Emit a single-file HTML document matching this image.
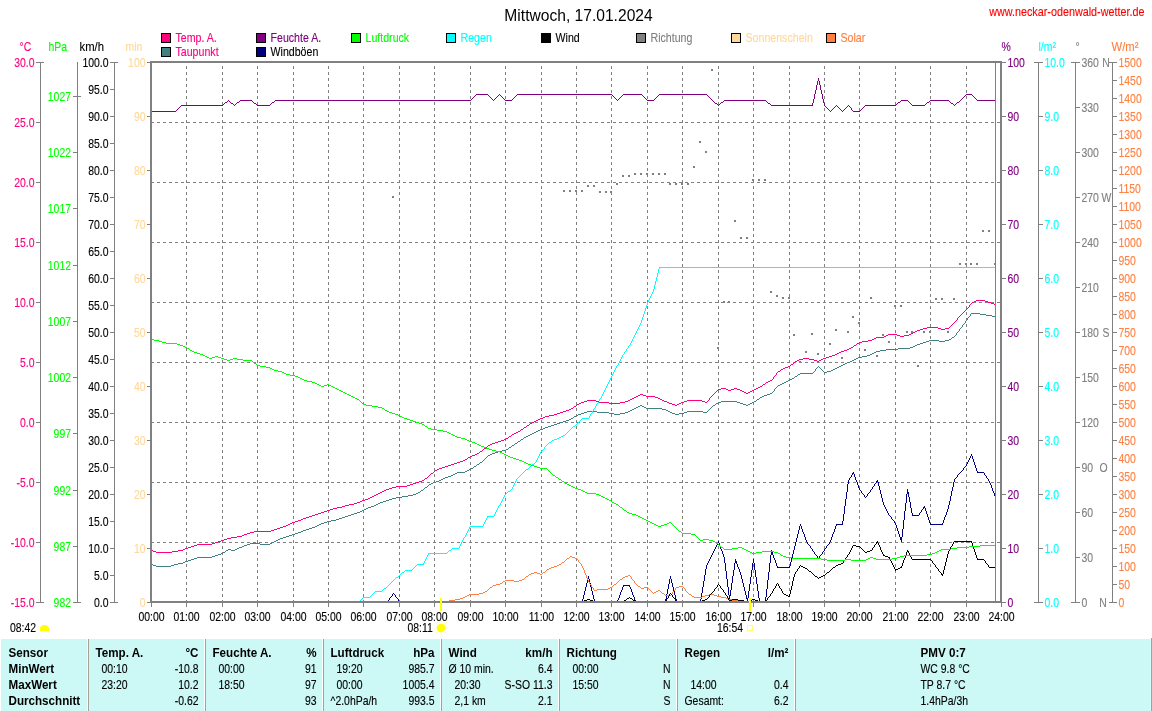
<!DOCTYPE html>
<html><head><meta charset="utf-8"><style>
html,body{margin:0;padding:0;background:#fff;overflow:hidden}
svg{display:block;will-change:transform}
text{font-family:"Liberation Sans", sans-serif;}
</style></head><body>
<svg width="1152" height="711" viewBox="0 0 1152 711">
<rect width="1152" height="711" fill="#fff"/>
<text transform="translate(578.5 21) scale(0.976 1)" fill="#000" font-size="16" text-anchor="middle" >Mittwoch, 17.01.2024</text>
<text transform="translate(1144.5 16) scale(0.9 1)" fill="#FF0000" stroke="#FF0000" stroke-width="0.12" font-size="12" text-anchor="end" >www.neckar-odenwald-wetter.de</text>
<rect x="161.5" y="33.5" width="9" height="9" fill="#FF0080" stroke="#000" stroke-width="1"/>
<text transform="translate(175.5 42) scale(0.885 1)" fill="#FF0080" stroke="#FF0080" stroke-width="0.12" font-size="12" >Temp. A.</text>
<rect x="256.5" y="33.5" width="9" height="9" fill="#800080" stroke="#000" stroke-width="1"/>
<text transform="translate(270.5 42) scale(0.885 1)" fill="#800080" stroke="#800080" stroke-width="0.12" font-size="12" >Feuchte A.</text>
<rect x="351.5" y="33.5" width="9" height="9" fill="#00FF00" stroke="#000" stroke-width="1"/>
<text transform="translate(365.5 42) scale(0.885 1)" fill="#00FF00" stroke="#00FF00" stroke-width="0.12" font-size="12" >Luftdruck</text>
<rect x="446.5" y="33.5" width="9" height="9" fill="#00FFFF" stroke="#000" stroke-width="1"/>
<text transform="translate(460.5 42) scale(0.885 1)" fill="#00FFFF" stroke="#00FFFF" stroke-width="0.12" font-size="12" >Regen</text>
<rect x="541.5" y="33.5" width="9" height="9" fill="#000000" stroke="#000" stroke-width="1"/>
<text transform="translate(555.5 42) scale(0.885 1)" fill="#000" stroke="#000" stroke-width="0.12" font-size="12" >Wind</text>
<rect x="636.5" y="33.5" width="9" height="9" fill="#808080" stroke="#000" stroke-width="1"/>
<text transform="translate(650.5 42) scale(0.885 1)" fill="#808080" stroke="#808080" stroke-width="0.12" font-size="12" >Richtung</text>
<rect x="731.5" y="33.5" width="9" height="9" fill="#FFD89A" stroke="#000" stroke-width="1"/>
<text transform="translate(745.5 42) scale(0.885 1)" fill="#FFD89A" stroke="#FFD89A" stroke-width="0.12" font-size="12" >Sonnenschein</text>
<rect x="826.5" y="33.5" width="9" height="9" fill="#FF8040" stroke="#000" stroke-width="1"/>
<text transform="translate(840.5 42) scale(0.885 1)" fill="#FF8040" stroke="#FF8040" stroke-width="0.12" font-size="12" >Solar</text>
<rect x="161.5" y="47.5" width="9" height="9" fill="#408080" stroke="#000" stroke-width="1"/>
<text transform="translate(175.5 56) scale(0.885 1)" fill="#FF0080" stroke="#FF0080" stroke-width="0.12" font-size="12" >Taupunkt</text>
<rect x="256.5" y="47.5" width="9" height="9" fill="#000080" stroke="#000" stroke-width="1"/>
<text transform="translate(270.5 56) scale(0.885 1)" fill="#000" stroke="#000" stroke-width="0.12" font-size="12" >Windböen</text>
<text transform="translate(19.5 51) scale(0.87 1)" fill="#FF0080" stroke="#FF0080" stroke-width="0.12" font-size="12" >°C</text>
<text transform="translate(48.5 51) scale(0.87 1)" fill="#00FF00" stroke="#00FF00" stroke-width="0.12" font-size="12" >hPa</text>
<text transform="translate(79.5 51) scale(0.94 1)" fill="#000" stroke="#000" stroke-width="0.12" font-size="12" >km/h</text>
<text transform="translate(125.5 51) scale(0.87 1)" fill="#FFD89A" stroke="#FFD89A" stroke-width="0.12" font-size="12" >min</text>
<text transform="translate(1001.5 51) scale(0.87 1)" fill="#800080" stroke="#800080" stroke-width="0.12" font-size="12" >%</text>
<text transform="translate(1038.5 51) scale(0.87 1)" fill="#00FFFF" stroke="#00FFFF" stroke-width="0.12" font-size="12" >l/m²</text>
<text transform="translate(1075.5 51) scale(0.87 1)" fill="#808080" stroke="#808080" stroke-width="0.12" font-size="12" >°</text>
<text transform="translate(1111.5 51) scale(0.94 1)" fill="#FF8040" stroke="#FF8040" stroke-width="0.12" font-size="12" >W/m²</text>
<rect x="40" y="62" width="1" height="541" fill="#808080"/>
<rect x="36" y="62" width="8" height="1" fill="#808080"/>
<text transform="translate(34.5 67) scale(0.87 1)" fill="#FF0080" stroke="#FF0080" stroke-width="0.12" font-size="12" text-anchor="end" >30.0</text>
<rect x="36" y="122" width="4" height="1" fill="#808080"/>
<text transform="translate(34.5 127) scale(0.87 1)" fill="#FF0080" stroke="#FF0080" stroke-width="0.12" font-size="12" text-anchor="end" >25.0</text>
<rect x="36" y="182" width="4" height="1" fill="#808080"/>
<text transform="translate(34.5 187) scale(0.87 1)" fill="#FF0080" stroke="#FF0080" stroke-width="0.12" font-size="12" text-anchor="end" >20.0</text>
<rect x="36" y="242" width="4" height="1" fill="#808080"/>
<text transform="translate(34.5 247) scale(0.87 1)" fill="#FF0080" stroke="#FF0080" stroke-width="0.12" font-size="12" text-anchor="end" >15.0</text>
<rect x="36" y="302" width="4" height="1" fill="#808080"/>
<text transform="translate(34.5 307) scale(0.87 1)" fill="#FF0080" stroke="#FF0080" stroke-width="0.12" font-size="12" text-anchor="end" >10.0</text>
<rect x="36" y="362" width="4" height="1" fill="#808080"/>
<text transform="translate(34.5 367) scale(0.87 1)" fill="#FF0080" stroke="#FF0080" stroke-width="0.12" font-size="12" text-anchor="end" >5.0</text>
<rect x="36" y="422" width="4" height="1" fill="#808080"/>
<text transform="translate(34.5 427) scale(0.87 1)" fill="#FF0080" stroke="#FF0080" stroke-width="0.12" font-size="12" text-anchor="end" >0.0</text>
<rect x="36" y="482" width="4" height="1" fill="#808080"/>
<text transform="translate(34.5 487) scale(0.87 1)" fill="#FF0080" stroke="#FF0080" stroke-width="0.12" font-size="12" text-anchor="end" >-5.0</text>
<rect x="36" y="542" width="4" height="1" fill="#808080"/>
<text transform="translate(34.5 547) scale(0.87 1)" fill="#FF0080" stroke="#FF0080" stroke-width="0.12" font-size="12" text-anchor="end" >-10.0</text>
<rect x="36" y="602" width="8" height="1" fill="#808080"/>
<text transform="translate(34.5 607) scale(0.87 1)" fill="#FF0080" stroke="#FF0080" stroke-width="0.12" font-size="12" text-anchor="end" >-15.0</text>
<rect x="77" y="62" width="1" height="541" fill="#808080"/>
<rect x="73" y="96" width="8" height="1" fill="#808080"/>
<text transform="translate(71 101) scale(0.87 1)" fill="#00FF00" stroke="#00FF00" stroke-width="0.12" font-size="12" text-anchor="end" >1027</text>
<rect x="73" y="152" width="4" height="1" fill="#808080"/>
<text transform="translate(71 157) scale(0.87 1)" fill="#00FF00" stroke="#00FF00" stroke-width="0.12" font-size="12" text-anchor="end" >1022</text>
<rect x="73" y="208" width="4" height="1" fill="#808080"/>
<text transform="translate(71 213) scale(0.87 1)" fill="#00FF00" stroke="#00FF00" stroke-width="0.12" font-size="12" text-anchor="end" >1017</text>
<rect x="73" y="265" width="4" height="1" fill="#808080"/>
<text transform="translate(71 270) scale(0.87 1)" fill="#00FF00" stroke="#00FF00" stroke-width="0.12" font-size="12" text-anchor="end" >1012</text>
<rect x="73" y="321" width="4" height="1" fill="#808080"/>
<text transform="translate(71 326) scale(0.87 1)" fill="#00FF00" stroke="#00FF00" stroke-width="0.12" font-size="12" text-anchor="end" >1007</text>
<rect x="73" y="377" width="4" height="1" fill="#808080"/>
<text transform="translate(71 382) scale(0.87 1)" fill="#00FF00" stroke="#00FF00" stroke-width="0.12" font-size="12" text-anchor="end" >1002</text>
<rect x="73" y="433" width="4" height="1" fill="#808080"/>
<text transform="translate(71 438) scale(0.87 1)" fill="#00FF00" stroke="#00FF00" stroke-width="0.12" font-size="12" text-anchor="end" >997</text>
<rect x="73" y="490" width="4" height="1" fill="#808080"/>
<text transform="translate(71 495) scale(0.87 1)" fill="#00FF00" stroke="#00FF00" stroke-width="0.12" font-size="12" text-anchor="end" >992</text>
<rect x="73" y="546" width="4" height="1" fill="#808080"/>
<text transform="translate(71 551) scale(0.87 1)" fill="#00FF00" stroke="#00FF00" stroke-width="0.12" font-size="12" text-anchor="end" >987</text>
<rect x="73" y="602" width="8" height="1" fill="#808080"/>
<text transform="translate(71 607) scale(0.87 1)" fill="#00FF00" stroke="#00FF00" stroke-width="0.12" font-size="12" text-anchor="end" >982</text>
<rect x="114" y="62" width="1" height="541" fill="#808080"/>
<rect x="110" y="62" width="8" height="1" fill="#808080"/>
<text transform="translate(108.5 67) scale(0.87 1)" fill="#000" stroke="#000" stroke-width="0.12" font-size="12" text-anchor="end" >100.0</text>
<rect x="110" y="89" width="4" height="1" fill="#808080"/>
<text transform="translate(108.5 94) scale(0.87 1)" fill="#000" stroke="#000" stroke-width="0.12" font-size="12" text-anchor="end" >95.0</text>
<rect x="110" y="116" width="4" height="1" fill="#808080"/>
<text transform="translate(108.5 121) scale(0.87 1)" fill="#000" stroke="#000" stroke-width="0.12" font-size="12" text-anchor="end" >90.0</text>
<rect x="110" y="143" width="4" height="1" fill="#808080"/>
<text transform="translate(108.5 148) scale(0.87 1)" fill="#000" stroke="#000" stroke-width="0.12" font-size="12" text-anchor="end" >85.0</text>
<rect x="110" y="170" width="4" height="1" fill="#808080"/>
<text transform="translate(108.5 175) scale(0.87 1)" fill="#000" stroke="#000" stroke-width="0.12" font-size="12" text-anchor="end" >80.0</text>
<rect x="110" y="197" width="4" height="1" fill="#808080"/>
<text transform="translate(108.5 202) scale(0.87 1)" fill="#000" stroke="#000" stroke-width="0.12" font-size="12" text-anchor="end" >75.0</text>
<rect x="110" y="224" width="4" height="1" fill="#808080"/>
<text transform="translate(108.5 229) scale(0.87 1)" fill="#000" stroke="#000" stroke-width="0.12" font-size="12" text-anchor="end" >70.0</text>
<rect x="110" y="251" width="4" height="1" fill="#808080"/>
<text transform="translate(108.5 256) scale(0.87 1)" fill="#000" stroke="#000" stroke-width="0.12" font-size="12" text-anchor="end" >65.0</text>
<rect x="110" y="278" width="4" height="1" fill="#808080"/>
<text transform="translate(108.5 283) scale(0.87 1)" fill="#000" stroke="#000" stroke-width="0.12" font-size="12" text-anchor="end" >60.0</text>
<rect x="110" y="305" width="4" height="1" fill="#808080"/>
<text transform="translate(108.5 310) scale(0.87 1)" fill="#000" stroke="#000" stroke-width="0.12" font-size="12" text-anchor="end" >55.0</text>
<rect x="110" y="332" width="4" height="1" fill="#808080"/>
<text transform="translate(108.5 337) scale(0.87 1)" fill="#000" stroke="#000" stroke-width="0.12" font-size="12" text-anchor="end" >50.0</text>
<rect x="110" y="359" width="4" height="1" fill="#808080"/>
<text transform="translate(108.5 364) scale(0.87 1)" fill="#000" stroke="#000" stroke-width="0.12" font-size="12" text-anchor="end" >45.0</text>
<rect x="110" y="386" width="4" height="1" fill="#808080"/>
<text transform="translate(108.5 391) scale(0.87 1)" fill="#000" stroke="#000" stroke-width="0.12" font-size="12" text-anchor="end" >40.0</text>
<rect x="110" y="413" width="4" height="1" fill="#808080"/>
<text transform="translate(108.5 418) scale(0.87 1)" fill="#000" stroke="#000" stroke-width="0.12" font-size="12" text-anchor="end" >35.0</text>
<rect x="110" y="440" width="4" height="1" fill="#808080"/>
<text transform="translate(108.5 445) scale(0.87 1)" fill="#000" stroke="#000" stroke-width="0.12" font-size="12" text-anchor="end" >30.0</text>
<rect x="110" y="467" width="4" height="1" fill="#808080"/>
<text transform="translate(108.5 472) scale(0.87 1)" fill="#000" stroke="#000" stroke-width="0.12" font-size="12" text-anchor="end" >25.0</text>
<rect x="110" y="494" width="4" height="1" fill="#808080"/>
<text transform="translate(108.5 499) scale(0.87 1)" fill="#000" stroke="#000" stroke-width="0.12" font-size="12" text-anchor="end" >20.0</text>
<rect x="110" y="521" width="4" height="1" fill="#808080"/>
<text transform="translate(108.5 526) scale(0.87 1)" fill="#000" stroke="#000" stroke-width="0.12" font-size="12" text-anchor="end" >15.0</text>
<rect x="110" y="548" width="4" height="1" fill="#808080"/>
<text transform="translate(108.5 553) scale(0.87 1)" fill="#000" stroke="#000" stroke-width="0.12" font-size="12" text-anchor="end" >10.0</text>
<rect x="110" y="575" width="4" height="1" fill="#808080"/>
<text transform="translate(108.5 580) scale(0.87 1)" fill="#000" stroke="#000" stroke-width="0.12" font-size="12" text-anchor="end" >5.0</text>
<rect x="110" y="602" width="8" height="1" fill="#808080"/>
<text transform="translate(108.5 607) scale(0.87 1)" fill="#000" stroke="#000" stroke-width="0.12" font-size="12" text-anchor="end" >0.0</text>
<rect x="147" y="62" width="3" height="1" fill="#808080"/>
<text transform="translate(145.5 67) scale(0.87 1)" fill="#FFD89A" stroke="#FFD89A" stroke-width="0.12" font-size="12" text-anchor="end" >100</text>
<rect x="147" y="116" width="3" height="1" fill="#808080"/>
<text transform="translate(145.5 121) scale(0.87 1)" fill="#FFD89A" stroke="#FFD89A" stroke-width="0.12" font-size="12" text-anchor="end" >90</text>
<rect x="147" y="170" width="3" height="1" fill="#808080"/>
<text transform="translate(145.5 175) scale(0.87 1)" fill="#FFD89A" stroke="#FFD89A" stroke-width="0.12" font-size="12" text-anchor="end" >80</text>
<rect x="147" y="224" width="3" height="1" fill="#808080"/>
<text transform="translate(145.5 229) scale(0.87 1)" fill="#FFD89A" stroke="#FFD89A" stroke-width="0.12" font-size="12" text-anchor="end" >70</text>
<rect x="147" y="278" width="3" height="1" fill="#808080"/>
<text transform="translate(145.5 283) scale(0.87 1)" fill="#FFD89A" stroke="#FFD89A" stroke-width="0.12" font-size="12" text-anchor="end" >60</text>
<rect x="147" y="332" width="3" height="1" fill="#808080"/>
<text transform="translate(145.5 337) scale(0.87 1)" fill="#FFD89A" stroke="#FFD89A" stroke-width="0.12" font-size="12" text-anchor="end" >50</text>
<rect x="147" y="386" width="3" height="1" fill="#808080"/>
<text transform="translate(145.5 391) scale(0.87 1)" fill="#FFD89A" stroke="#FFD89A" stroke-width="0.12" font-size="12" text-anchor="end" >40</text>
<rect x="147" y="440" width="3" height="1" fill="#808080"/>
<text transform="translate(145.5 445) scale(0.87 1)" fill="#FFD89A" stroke="#FFD89A" stroke-width="0.12" font-size="12" text-anchor="end" >30</text>
<rect x="147" y="494" width="3" height="1" fill="#808080"/>
<text transform="translate(145.5 499) scale(0.87 1)" fill="#FFD89A" stroke="#FFD89A" stroke-width="0.12" font-size="12" text-anchor="end" >20</text>
<rect x="147" y="548" width="3" height="1" fill="#808080"/>
<text transform="translate(145.5 553) scale(0.87 1)" fill="#FFD89A" stroke="#FFD89A" stroke-width="0.12" font-size="12" text-anchor="end" >10</text>
<rect x="147" y="602" width="3" height="1" fill="#808080"/>
<text transform="translate(145.5 607) scale(0.87 1)" fill="#FFD89A" stroke="#FFD89A" stroke-width="0.12" font-size="12" text-anchor="end" >0</text>
<rect x="1002" y="62" width="4" height="1" fill="#808080"/>
<text transform="translate(1007.5 67) scale(0.87 1)" fill="#800080" stroke="#800080" stroke-width="0.12" font-size="12" >100</text>
<rect x="1002" y="116" width="4" height="1" fill="#808080"/>
<text transform="translate(1007.5 121) scale(0.87 1)" fill="#800080" stroke="#800080" stroke-width="0.12" font-size="12" >90</text>
<rect x="1002" y="170" width="4" height="1" fill="#808080"/>
<text transform="translate(1007.5 175) scale(0.87 1)" fill="#800080" stroke="#800080" stroke-width="0.12" font-size="12" >80</text>
<rect x="1002" y="224" width="4" height="1" fill="#808080"/>
<text transform="translate(1007.5 229) scale(0.87 1)" fill="#800080" stroke="#800080" stroke-width="0.12" font-size="12" >70</text>
<rect x="1002" y="278" width="4" height="1" fill="#808080"/>
<text transform="translate(1007.5 283) scale(0.87 1)" fill="#800080" stroke="#800080" stroke-width="0.12" font-size="12" >60</text>
<rect x="1002" y="332" width="4" height="1" fill="#808080"/>
<text transform="translate(1007.5 337) scale(0.87 1)" fill="#800080" stroke="#800080" stroke-width="0.12" font-size="12" >50</text>
<rect x="1002" y="386" width="4" height="1" fill="#808080"/>
<text transform="translate(1007.5 391) scale(0.87 1)" fill="#800080" stroke="#800080" stroke-width="0.12" font-size="12" >40</text>
<rect x="1002" y="440" width="4" height="1" fill="#808080"/>
<text transform="translate(1007.5 445) scale(0.87 1)" fill="#800080" stroke="#800080" stroke-width="0.12" font-size="12" >30</text>
<rect x="1002" y="494" width="4" height="1" fill="#808080"/>
<text transform="translate(1007.5 499) scale(0.87 1)" fill="#800080" stroke="#800080" stroke-width="0.12" font-size="12" >20</text>
<rect x="1002" y="548" width="4" height="1" fill="#808080"/>
<text transform="translate(1007.5 553) scale(0.87 1)" fill="#800080" stroke="#800080" stroke-width="0.12" font-size="12" >10</text>
<rect x="1002" y="602" width="4" height="1" fill="#808080"/>
<text transform="translate(1007.5 607) scale(0.87 1)" fill="#800080" stroke="#800080" stroke-width="0.12" font-size="12" >0</text>
<rect x="1038" y="62" width="1" height="541" fill="#808080"/>
<rect x="1034" y="62" width="9" height="1" fill="#808080"/>
<text transform="translate(1044.5 67) scale(0.87 1)" fill="#00FFFF" stroke="#00FFFF" stroke-width="0.12" font-size="12" >10.0</text>
<rect x="1039" y="116" width="4" height="1" fill="#808080"/>
<text transform="translate(1044.5 121) scale(0.87 1)" fill="#00FFFF" stroke="#00FFFF" stroke-width="0.12" font-size="12" >9.0</text>
<rect x="1039" y="170" width="4" height="1" fill="#808080"/>
<text transform="translate(1044.5 175) scale(0.87 1)" fill="#00FFFF" stroke="#00FFFF" stroke-width="0.12" font-size="12" >8.0</text>
<rect x="1039" y="224" width="4" height="1" fill="#808080"/>
<text transform="translate(1044.5 229) scale(0.87 1)" fill="#00FFFF" stroke="#00FFFF" stroke-width="0.12" font-size="12" >7.0</text>
<rect x="1039" y="278" width="4" height="1" fill="#808080"/>
<text transform="translate(1044.5 283) scale(0.87 1)" fill="#00FFFF" stroke="#00FFFF" stroke-width="0.12" font-size="12" >6.0</text>
<rect x="1039" y="332" width="4" height="1" fill="#808080"/>
<text transform="translate(1044.5 337) scale(0.87 1)" fill="#00FFFF" stroke="#00FFFF" stroke-width="0.12" font-size="12" >5.0</text>
<rect x="1039" y="386" width="4" height="1" fill="#808080"/>
<text transform="translate(1044.5 391) scale(0.87 1)" fill="#00FFFF" stroke="#00FFFF" stroke-width="0.12" font-size="12" >4.0</text>
<rect x="1039" y="440" width="4" height="1" fill="#808080"/>
<text transform="translate(1044.5 445) scale(0.87 1)" fill="#00FFFF" stroke="#00FFFF" stroke-width="0.12" font-size="12" >3.0</text>
<rect x="1039" y="494" width="4" height="1" fill="#808080"/>
<text transform="translate(1044.5 499) scale(0.87 1)" fill="#00FFFF" stroke="#00FFFF" stroke-width="0.12" font-size="12" >2.0</text>
<rect x="1039" y="548" width="4" height="1" fill="#808080"/>
<text transform="translate(1044.5 553) scale(0.87 1)" fill="#00FFFF" stroke="#00FFFF" stroke-width="0.12" font-size="12" >1.0</text>
<rect x="1034" y="602" width="9" height="1" fill="#808080"/>
<text transform="translate(1044.5 607) scale(0.87 1)" fill="#00FFFF" stroke="#00FFFF" stroke-width="0.12" font-size="12" >0.0</text>
<rect x="1075" y="62" width="1" height="541" fill="#808080"/>
<rect x="1071" y="62" width="9" height="1" fill="#808080"/>
<text transform="translate(1081.5 67) scale(0.87 1)" fill="#808080" stroke="#808080" stroke-width="0.12" font-size="12" >360</text>
<text transform="translate(1102.2 67) scale(0.87 1)" fill="#808080" stroke="#808080" stroke-width="0.12" font-size="12" >N</text>
<rect x="1076" y="107" width="4" height="1" fill="#808080"/>
<text transform="translate(1081.5 112) scale(0.87 1)" fill="#808080" stroke="#808080" stroke-width="0.12" font-size="12" >330</text>
<rect x="1076" y="152" width="4" height="1" fill="#808080"/>
<text transform="translate(1081.5 157) scale(0.87 1)" fill="#808080" stroke="#808080" stroke-width="0.12" font-size="12" >300</text>
<rect x="1076" y="197" width="4" height="1" fill="#808080"/>
<text transform="translate(1081.5 202) scale(0.87 1)" fill="#808080" stroke="#808080" stroke-width="0.12" font-size="12" >270</text>
<text transform="translate(1101.5 202) scale(0.87 1)" fill="#808080" stroke="#808080" stroke-width="0.12" font-size="12" >W</text>
<rect x="1076" y="242" width="4" height="1" fill="#808080"/>
<text transform="translate(1081.5 247) scale(0.87 1)" fill="#808080" stroke="#808080" stroke-width="0.12" font-size="12" >240</text>
<rect x="1076" y="287" width="4" height="1" fill="#808080"/>
<text transform="translate(1081.5 292) scale(0.87 1)" fill="#808080" stroke="#808080" stroke-width="0.12" font-size="12" >210</text>
<rect x="1076" y="332" width="4" height="1" fill="#808080"/>
<text transform="translate(1081.5 337) scale(0.87 1)" fill="#808080" stroke="#808080" stroke-width="0.12" font-size="12" >180</text>
<text transform="translate(1102.4 337) scale(0.87 1)" fill="#808080" stroke="#808080" stroke-width="0.12" font-size="12" >S</text>
<rect x="1076" y="377" width="4" height="1" fill="#808080"/>
<text transform="translate(1081.5 382) scale(0.87 1)" fill="#808080" stroke="#808080" stroke-width="0.12" font-size="12" >150</text>
<rect x="1076" y="422" width="4" height="1" fill="#808080"/>
<text transform="translate(1081.5 427) scale(0.87 1)" fill="#808080" stroke="#808080" stroke-width="0.12" font-size="12" >120</text>
<rect x="1076" y="467" width="4" height="1" fill="#808080"/>
<text transform="translate(1081.5 472) scale(0.87 1)" fill="#808080" stroke="#808080" stroke-width="0.12" font-size="12" >90</text>
<text transform="translate(1099.6 472) scale(0.87 1)" fill="#808080" stroke="#808080" stroke-width="0.12" font-size="12" >O</text>
<rect x="1076" y="512" width="4" height="1" fill="#808080"/>
<text transform="translate(1081.5 517) scale(0.87 1)" fill="#808080" stroke="#808080" stroke-width="0.12" font-size="12" >60</text>
<rect x="1076" y="557" width="4" height="1" fill="#808080"/>
<text transform="translate(1081.5 562) scale(0.87 1)" fill="#808080" stroke="#808080" stroke-width="0.12" font-size="12" >30</text>
<rect x="1071" y="602" width="9" height="1" fill="#808080"/>
<text transform="translate(1081.5 607) scale(0.87 1)" fill="#808080" stroke="#808080" stroke-width="0.12" font-size="12" >0</text>
<text transform="translate(1099.3 607) scale(0.87 1)" fill="#808080" stroke="#808080" stroke-width="0.12" font-size="12" >N</text>
<rect x="1112" y="62" width="1" height="541" fill="#808080"/>
<rect x="1109" y="62" width="8" height="1" fill="#808080"/>
<text transform="translate(1118.5 67) scale(0.87 1)" fill="#FF8040" stroke="#FF8040" stroke-width="0.12" font-size="12" >1500</text>
<rect x="1113" y="80" width="4" height="1" fill="#808080"/>
<text transform="translate(1118.5 85) scale(0.87 1)" fill="#FF8040" stroke="#FF8040" stroke-width="0.12" font-size="12" >1450</text>
<rect x="1113" y="98" width="4" height="1" fill="#808080"/>
<text transform="translate(1118.5 103) scale(0.87 1)" fill="#FF8040" stroke="#FF8040" stroke-width="0.12" font-size="12" >1400</text>
<rect x="1113" y="116" width="4" height="1" fill="#808080"/>
<text transform="translate(1118.5 121) scale(0.87 1)" fill="#FF8040" stroke="#FF8040" stroke-width="0.12" font-size="12" >1350</text>
<rect x="1113" y="134" width="4" height="1" fill="#808080"/>
<text transform="translate(1118.5 139) scale(0.87 1)" fill="#FF8040" stroke="#FF8040" stroke-width="0.12" font-size="12" >1300</text>
<rect x="1113" y="152" width="4" height="1" fill="#808080"/>
<text transform="translate(1118.5 157) scale(0.87 1)" fill="#FF8040" stroke="#FF8040" stroke-width="0.12" font-size="12" >1250</text>
<rect x="1113" y="170" width="4" height="1" fill="#808080"/>
<text transform="translate(1118.5 175) scale(0.87 1)" fill="#FF8040" stroke="#FF8040" stroke-width="0.12" font-size="12" >1200</text>
<rect x="1113" y="188" width="4" height="1" fill="#808080"/>
<text transform="translate(1118.5 193) scale(0.87 1)" fill="#FF8040" stroke="#FF8040" stroke-width="0.12" font-size="12" >1150</text>
<rect x="1113" y="206" width="4" height="1" fill="#808080"/>
<text transform="translate(1118.5 211) scale(0.87 1)" fill="#FF8040" stroke="#FF8040" stroke-width="0.12" font-size="12" >1100</text>
<rect x="1113" y="224" width="4" height="1" fill="#808080"/>
<text transform="translate(1118.5 229) scale(0.87 1)" fill="#FF8040" stroke="#FF8040" stroke-width="0.12" font-size="12" >1050</text>
<rect x="1113" y="242" width="4" height="1" fill="#808080"/>
<text transform="translate(1118.5 247) scale(0.87 1)" fill="#FF8040" stroke="#FF8040" stroke-width="0.12" font-size="12" >1000</text>
<rect x="1113" y="260" width="4" height="1" fill="#808080"/>
<text transform="translate(1118.5 265) scale(0.87 1)" fill="#FF8040" stroke="#FF8040" stroke-width="0.12" font-size="12" >950</text>
<rect x="1113" y="278" width="4" height="1" fill="#808080"/>
<text transform="translate(1118.5 283) scale(0.87 1)" fill="#FF8040" stroke="#FF8040" stroke-width="0.12" font-size="12" >900</text>
<rect x="1113" y="296" width="4" height="1" fill="#808080"/>
<text transform="translate(1118.5 301) scale(0.87 1)" fill="#FF8040" stroke="#FF8040" stroke-width="0.12" font-size="12" >850</text>
<rect x="1113" y="314" width="4" height="1" fill="#808080"/>
<text transform="translate(1118.5 319) scale(0.87 1)" fill="#FF8040" stroke="#FF8040" stroke-width="0.12" font-size="12" >800</text>
<rect x="1113" y="332" width="4" height="1" fill="#808080"/>
<text transform="translate(1118.5 337) scale(0.87 1)" fill="#FF8040" stroke="#FF8040" stroke-width="0.12" font-size="12" >750</text>
<rect x="1113" y="350" width="4" height="1" fill="#808080"/>
<text transform="translate(1118.5 355) scale(0.87 1)" fill="#FF8040" stroke="#FF8040" stroke-width="0.12" font-size="12" >700</text>
<rect x="1113" y="368" width="4" height="1" fill="#808080"/>
<text transform="translate(1118.5 373) scale(0.87 1)" fill="#FF8040" stroke="#FF8040" stroke-width="0.12" font-size="12" >650</text>
<rect x="1113" y="386" width="4" height="1" fill="#808080"/>
<text transform="translate(1118.5 391) scale(0.87 1)" fill="#FF8040" stroke="#FF8040" stroke-width="0.12" font-size="12" >600</text>
<rect x="1113" y="404" width="4" height="1" fill="#808080"/>
<text transform="translate(1118.5 409) scale(0.87 1)" fill="#FF8040" stroke="#FF8040" stroke-width="0.12" font-size="12" >550</text>
<rect x="1113" y="422" width="4" height="1" fill="#808080"/>
<text transform="translate(1118.5 427) scale(0.87 1)" fill="#FF8040" stroke="#FF8040" stroke-width="0.12" font-size="12" >500</text>
<rect x="1113" y="440" width="4" height="1" fill="#808080"/>
<text transform="translate(1118.5 445) scale(0.87 1)" fill="#FF8040" stroke="#FF8040" stroke-width="0.12" font-size="12" >450</text>
<rect x="1113" y="458" width="4" height="1" fill="#808080"/>
<text transform="translate(1118.5 463) scale(0.87 1)" fill="#FF8040" stroke="#FF8040" stroke-width="0.12" font-size="12" >400</text>
<rect x="1113" y="476" width="4" height="1" fill="#808080"/>
<text transform="translate(1118.5 481) scale(0.87 1)" fill="#FF8040" stroke="#FF8040" stroke-width="0.12" font-size="12" >350</text>
<rect x="1113" y="494" width="4" height="1" fill="#808080"/>
<text transform="translate(1118.5 499) scale(0.87 1)" fill="#FF8040" stroke="#FF8040" stroke-width="0.12" font-size="12" >300</text>
<rect x="1113" y="512" width="4" height="1" fill="#808080"/>
<text transform="translate(1118.5 517) scale(0.87 1)" fill="#FF8040" stroke="#FF8040" stroke-width="0.12" font-size="12" >250</text>
<rect x="1113" y="530" width="4" height="1" fill="#808080"/>
<text transform="translate(1118.5 535) scale(0.87 1)" fill="#FF8040" stroke="#FF8040" stroke-width="0.12" font-size="12" >200</text>
<rect x="1113" y="548" width="4" height="1" fill="#808080"/>
<text transform="translate(1118.5 553) scale(0.87 1)" fill="#FF8040" stroke="#FF8040" stroke-width="0.12" font-size="12" >150</text>
<rect x="1113" y="566" width="4" height="1" fill="#808080"/>
<text transform="translate(1118.5 571) scale(0.87 1)" fill="#FF8040" stroke="#FF8040" stroke-width="0.12" font-size="12" >100</text>
<rect x="1113" y="584" width="4" height="1" fill="#808080"/>
<text transform="translate(1118.5 589) scale(0.87 1)" fill="#FF8040" stroke="#FF8040" stroke-width="0.12" font-size="12" >50</text>
<rect x="1109" y="602" width="8" height="1" fill="#808080"/>
<text transform="translate(1118.5 607) scale(0.87 1)" fill="#FF8040" stroke="#FF8040" stroke-width="0.12" font-size="12" >0</text>
<line x1="151" y1="122.5" x2="1000" y2="122.5" stroke="#808080" stroke-width="1" stroke-dasharray="3 3"/>
<line x1="151" y1="182.5" x2="1000" y2="182.5" stroke="#808080" stroke-width="1" stroke-dasharray="3 3"/>
<line x1="151" y1="242.5" x2="1000" y2="242.5" stroke="#808080" stroke-width="1" stroke-dasharray="3 3"/>
<line x1="151" y1="302.5" x2="1000" y2="302.5" stroke="#808080" stroke-width="1" stroke-dasharray="3 3"/>
<line x1="151" y1="362.5" x2="1000" y2="362.5" stroke="#808080" stroke-width="1" stroke-dasharray="3 3"/>
<line x1="151" y1="422.5" x2="1000" y2="422.5" stroke="#808080" stroke-width="1" stroke-dasharray="3 3"/>
<line x1="151" y1="482.5" x2="1000" y2="482.5" stroke="#808080" stroke-width="1" stroke-dasharray="3 3"/>
<line x1="151" y1="542.5" x2="1000" y2="542.5" stroke="#808080" stroke-width="1" stroke-dasharray="3 3"/>
<line x1="186.5" y1="66" x2="186.5" y2="601" stroke="#808080" stroke-width="1" stroke-dasharray="3 3"/>
<line x1="222.5" y1="66" x2="222.5" y2="601" stroke="#808080" stroke-width="1" stroke-dasharray="3 3"/>
<line x1="257.5" y1="66" x2="257.5" y2="601" stroke="#808080" stroke-width="1" stroke-dasharray="3 3"/>
<line x1="293.5" y1="66" x2="293.5" y2="601" stroke="#808080" stroke-width="1" stroke-dasharray="3 3"/>
<line x1="328.5" y1="66" x2="328.5" y2="601" stroke="#808080" stroke-width="1" stroke-dasharray="3 3"/>
<line x1="363.5" y1="66" x2="363.5" y2="601" stroke="#808080" stroke-width="1" stroke-dasharray="3 3"/>
<line x1="399.5" y1="66" x2="399.5" y2="601" stroke="#808080" stroke-width="1" stroke-dasharray="3 3"/>
<line x1="434.5" y1="66" x2="434.5" y2="601" stroke="#808080" stroke-width="1" stroke-dasharray="3 3"/>
<line x1="470.5" y1="66" x2="470.5" y2="601" stroke="#808080" stroke-width="1" stroke-dasharray="3 3"/>
<line x1="505.5" y1="66" x2="505.5" y2="601" stroke="#808080" stroke-width="1" stroke-dasharray="3 3"/>
<line x1="541.5" y1="66" x2="541.5" y2="601" stroke="#808080" stroke-width="1" stroke-dasharray="3 3"/>
<line x1="576.5" y1="66" x2="576.5" y2="601" stroke="#808080" stroke-width="1" stroke-dasharray="3 3"/>
<line x1="611.5" y1="66" x2="611.5" y2="601" stroke="#808080" stroke-width="1" stroke-dasharray="3 3"/>
<line x1="647.5" y1="66" x2="647.5" y2="601" stroke="#808080" stroke-width="1" stroke-dasharray="3 3"/>
<line x1="682.5" y1="66" x2="682.5" y2="601" stroke="#808080" stroke-width="1" stroke-dasharray="3 3"/>
<line x1="718.5" y1="66" x2="718.5" y2="601" stroke="#808080" stroke-width="1" stroke-dasharray="3 3"/>
<line x1="753.5" y1="66" x2="753.5" y2="601" stroke="#808080" stroke-width="1" stroke-dasharray="3 3"/>
<line x1="789.5" y1="66" x2="789.5" y2="601" stroke="#808080" stroke-width="1" stroke-dasharray="3 3"/>
<line x1="824.5" y1="66" x2="824.5" y2="601" stroke="#808080" stroke-width="1" stroke-dasharray="3 3"/>
<line x1="859.5" y1="66" x2="859.5" y2="601" stroke="#808080" stroke-width="1" stroke-dasharray="3 3"/>
<line x1="895.5" y1="66" x2="895.5" y2="601" stroke="#808080" stroke-width="1" stroke-dasharray="3 3"/>
<line x1="930.5" y1="66" x2="930.5" y2="601" stroke="#808080" stroke-width="1" stroke-dasharray="3 3"/>
<line x1="966.5" y1="66" x2="966.5" y2="601" stroke="#808080" stroke-width="1" stroke-dasharray="3 3"/>
<path d="M393 593h1v1h-1zM392 594h1v1h-1zM394 594h1v1h-1zM392 595h1v1h-1zM395 595h1v1h-1zM391 596h1v1h-1zM395 596h1v1h-1zM390 597h1v1h-1zM396 597h1v1h-1zM389 598h1v1h-1zM397 598h1v1h-1zM389 599h1v1h-1zM398 599h1v1h-1zM388 600h1v1h-1zM398 600h1v1h-1zM387 601h1v1h-1zM399 601h1v1h-1z" fill="#000080" shape-rendering="crispEdges"/>
<path d="M588 576h1v1h-1zM588 577h1v1h-1zM588 578h1v1h-1zM587 579h1v1h-1zM589 579h1v1h-1zM587 580h1v1h-1zM589 580h1v1h-1zM587 581h1v1h-1zM589 581h1v1h-1zM587 582h1v1h-1zM589 582h1v1h-1zM586 583h1v1h-1zM590 583h1v1h-1zM586 584h1v1h-1zM590 584h1v1h-1zM586 585h1v1h-1zM590 585h1v1h-1zM586 586h1v1h-1zM590 586h1v1h-1zM585 587h1v1h-1zM591 587h1v1h-1zM585 588h1v1h-1zM591 588h1v1h-1zM585 589h1v1h-1zM591 589h1v1h-1zM585 590h1v1h-1zM591 590h1v1h-1zM584 591h1v1h-1zM592 591h1v1h-1zM584 592h1v1h-1zM592 592h1v1h-1zM584 593h1v1h-1zM592 593h1v1h-1zM584 594h1v1h-1zM592 594h1v1h-1zM583 595h1v1h-1zM593 595h1v1h-1zM583 596h1v1h-1zM593 596h1v1h-1zM583 597h1v1h-1zM593 597h1v1h-1zM583 598h1v1h-1zM593 598h1v1h-1zM582 599h1v1h-1zM594 599h1v1h-1zM582 600h1v1h-1zM594 600h1v1h-1zM582 601h1v1h-1zM594 601h1v1h-1z" fill="#000080" shape-rendering="crispEdges"/>
<path d="M623 585h7v1h-7zM623 586h1v1h-1zM629 586h1v1h-1zM622 587h1v1h-1zM630 587h1v1h-1zM622 588h1v1h-1zM630 588h1v1h-1zM622 589h1v1h-1zM631 589h1v1h-1zM621 590h1v1h-1zM631 590h1v1h-1zM621 591h1v1h-1zM631 591h1v1h-1zM620 592h1v1h-1zM632 592h1v1h-1zM620 593h1v1h-1zM632 593h1v1h-1zM620 594h1v1h-1zM632 594h1v1h-1zM619 595h1v1h-1zM633 595h1v1h-1zM619 596h1v1h-1zM633 596h1v1h-1zM619 597h1v1h-1zM634 597h1v1h-1zM618 598h1v1h-1zM634 598h1v1h-1zM618 599h1v1h-1zM634 599h1v1h-1zM617 600h1v1h-1zM635 600h1v1h-1zM617 601h1v1h-1zM635 601h1v1h-1z" fill="#000080" shape-rendering="crispEdges"/>
<path d="M670 576h1v1h-1zM670 577h1v1h-1zM670 578h1v1h-1zM669 579h1v1h-1zM671 579h1v1h-1zM669 580h1v1h-1zM671 580h1v1h-1zM669 581h1v1h-1zM671 581h1v1h-1zM669 582h1v1h-1zM671 582h1v1h-1zM669 583h1v1h-1zM672 583h1v1h-1zM668 584h1v1h-1zM672 584h1v1h-1zM668 585h1v1h-1zM672 585h1v1h-1zM668 586h1v1h-1zM672 586h1v1h-1zM668 587h1v1h-1zM673 587h1v1h-1zM668 588h1v1h-1zM673 588h1v1h-1zM667 589h1v1h-1zM673 589h1v1h-1zM667 590h1v1h-1zM673 590h1v1h-1zM667 591h1v1h-1zM674 591h1v1h-1zM667 592h1v1h-1zM674 592h1v1h-1zM667 593h1v1h-1zM674 593h1v1h-1zM666 594h1v1h-1zM674 594h1v1h-1zM666 595h1v1h-1zM675 595h1v1h-1zM666 596h1v1h-1zM675 596h1v1h-1zM666 597h1v1h-1zM675 597h1v1h-1zM666 598h1v1h-1zM675 598h1v1h-1zM665 599h1v1h-1zM676 599h1v1h-1zM665 600h1v1h-1zM676 600h1v1h-1zM665 601h1v1h-1zM676 601h1v1h-1z" fill="#000080" shape-rendering="crispEdges"/>
<path d="M971 454h1v1h-1zM971 455h1v1h-1zM970 456h1v1h-1zM972 456h1v1h-1zM970 457h1v1h-1zM972 457h1v1h-1zM969 458h1v1h-1zM972 458h1v1h-1zM969 459h1v1h-1zM973 459h1v1h-1zM968 460h1v1h-1zM973 460h1v1h-1zM968 461h1v1h-1zM973 461h1v1h-1zM967 462h1v1h-1zM974 462h1v1h-1zM967 463h1v1h-1zM974 463h1v1h-1zM966 464h1v1h-1zM974 464h1v1h-1zM966 465h1v1h-1zM975 465h1v1h-1zM965 466h1v1h-1zM975 466h1v1h-1zM964 467h1v1h-1zM975 467h1v1h-1zM963 468h1v1h-1zM976 468h1v1h-1zM963 469h1v1h-1zM976 469h1v1h-1zM962 470h1v1h-1zM976 470h1v1h-1zM961 471h1v1h-1zM977 471h1v1h-1zM853 472h1v1h-1zM960 472h1v1h-1zM977 472h7v1h-7zM852 473h2v1h-2zM959 473h1v1h-1zM984 473h1v1h-1zM852 474h1v1h-1zM854 474h1v1h-1zM958 474h1v1h-1zM984 474h1v1h-1zM851 475h1v1h-1zM854 475h1v1h-1zM957 475h1v1h-1zM985 475h1v1h-1zM851 476h1v1h-1zM854 476h1v1h-1zM957 476h1v1h-1zM986 476h1v1h-1zM850 477h1v1h-1zM855 477h1v1h-1zM956 477h1v1h-1zM986 477h1v1h-1zM849 478h1v1h-1zM855 478h1v1h-1zM955 478h1v1h-1zM987 478h1v1h-1zM849 479h1v1h-1zM855 479h1v1h-1zM954 479h1v1h-1zM988 479h1v1h-1zM848 480h1v1h-1zM856 480h1v1h-1zM877 480h1v1h-1zM954 480h1v1h-1zM988 480h1v1h-1zM848 481h1v1h-1zM856 481h1v1h-1zM876 481h2v1h-2zM954 481h1v1h-1zM989 481h1v1h-1zM848 482h1v1h-1zM857 482h1v1h-1zM876 482h1v1h-1zM878 482h1v1h-1zM953 482h1v1h-1zM989 482h1v1h-1zM848 483h1v1h-1zM857 483h1v1h-1zM875 483h1v1h-1zM878 483h1v1h-1zM953 483h1v1h-1zM990 483h1v1h-1zM847 484h1v1h-1zM857 484h1v1h-1zM874 484h1v1h-1zM878 484h1v1h-1zM953 484h1v1h-1zM990 484h1v1h-1zM847 485h1v1h-1zM858 485h1v1h-1zM874 485h1v1h-1zM878 485h1v1h-1zM953 485h1v1h-1zM991 485h1v1h-1zM847 486h1v1h-1zM858 486h1v1h-1zM873 486h1v1h-1zM879 486h1v1h-1zM953 486h1v1h-1zM991 486h1v1h-1zM847 487h1v1h-1zM858 487h1v1h-1zM872 487h1v1h-1zM879 487h1v1h-1zM952 487h1v1h-1zM991 487h1v1h-1zM847 488h1v1h-1zM859 488h1v1h-1zM872 488h1v1h-1zM879 488h1v1h-1zM952 488h1v1h-1zM992 488h1v1h-1zM847 489h1v1h-1zM859 489h1v1h-1zM871 489h1v1h-1zM879 489h1v1h-1zM907 489h1v1h-1zM952 489h1v1h-1zM992 489h1v1h-1zM847 490h1v1h-1zM860 490h1v1h-1zM870 490h1v1h-1zM880 490h1v1h-1zM907 490h1v1h-1zM952 490h1v1h-1zM992 490h1v1h-1zM847 491h1v1h-1zM861 491h1v1h-1zM870 491h1v1h-1zM880 491h1v1h-1zM907 491h1v1h-1zM951 491h1v1h-1zM993 491h1v1h-1zM846 492h1v1h-1zM861 492h1v1h-1zM869 492h1v1h-1zM880 492h1v1h-1zM907 492h2v1h-2zM951 492h1v1h-1zM993 492h1v1h-1zM846 493h1v1h-1zM862 493h1v1h-1zM868 493h1v1h-1zM880 493h1v1h-1zM907 493h2v1h-2zM951 493h1v1h-1zM994 493h1v1h-1zM846 494h1v1h-1zM863 494h1v1h-1zM867 494h1v1h-1zM881 494h1v1h-1zM906 494h1v1h-1zM908 494h1v1h-1zM951 494h1v1h-1zM994 494h1v1h-1zM846 495h1v1h-1zM864 495h1v1h-1zM867 495h1v1h-1zM881 495h1v1h-1zM906 495h1v1h-1zM908 495h1v1h-1zM951 495h1v1h-1zM994 495h1v1h-1zM846 496h1v1h-1zM864 496h1v1h-1zM866 496h1v1h-1zM881 496h1v1h-1zM906 496h1v1h-1zM908 496h1v1h-1zM950 496h1v1h-1zM995 496h1v1h-1zM846 497h1v1h-1zM865 497h1v1h-1zM881 497h1v1h-1zM906 497h1v1h-1zM909 497h1v1h-1zM950 497h1v1h-1zM995 497h1v1h-1zM846 498h1v1h-1zM882 498h1v1h-1zM906 498h1v1h-1zM909 498h1v1h-1zM950 498h1v1h-1zM845 499h1v1h-1zM882 499h1v1h-1zM906 499h1v1h-1zM909 499h1v1h-1zM950 499h1v1h-1zM845 500h1v1h-1zM882 500h1v1h-1zM906 500h1v1h-1zM909 500h1v1h-1zM950 500h1v1h-1zM845 501h1v1h-1zM882 501h1v1h-1zM906 501h1v1h-1zM909 501h1v1h-1zM949 501h1v1h-1zM845 502h1v1h-1zM883 502h1v1h-1zM906 502h1v1h-1zM910 502h1v1h-1zM949 502h1v1h-1zM845 503h1v1h-1zM883 503h1v1h-1zM905 503h1v1h-1zM910 503h1v1h-1zM949 503h1v1h-1zM845 504h1v1h-1zM883 504h1v1h-1zM905 504h1v1h-1zM910 504h1v1h-1zM949 504h1v1h-1zM845 505h1v1h-1zM884 505h1v1h-1zM905 505h1v1h-1zM910 505h1v1h-1zM948 505h1v1h-1zM844 506h1v1h-1zM884 506h1v1h-1zM905 506h1v1h-1zM910 506h1v1h-1zM924 506h1v1h-1zM948 506h1v1h-1zM844 507h1v1h-1zM885 507h1v1h-1zM905 507h1v1h-1zM910 507h1v1h-1zM923 507h2v1h-2zM948 507h1v1h-1zM844 508h1v1h-1zM885 508h1v1h-1zM905 508h1v1h-1zM911 508h1v1h-1zM923 508h1v1h-1zM925 508h1v1h-1zM948 508h1v1h-1zM844 509h1v1h-1zM886 509h1v1h-1zM905 509h1v1h-1zM911 509h1v1h-1zM922 509h1v1h-1zM925 509h1v1h-1zM947 509h1v1h-1zM844 510h1v1h-1zM886 510h1v1h-1zM905 510h1v1h-1zM911 510h1v1h-1zM921 510h1v1h-1zM925 510h1v1h-1zM947 510h1v1h-1zM844 511h1v1h-1zM887 511h1v1h-1zM904 511h1v1h-1zM911 511h1v1h-1zM921 511h1v1h-1zM926 511h1v1h-1zM947 511h1v1h-1zM844 512h1v1h-1zM887 512h1v1h-1zM904 512h1v1h-1zM911 512h1v1h-1zM920 512h1v1h-1zM926 512h1v1h-1zM946 512h1v1h-1zM844 513h1v1h-1zM888 513h1v1h-1zM904 513h1v1h-1zM912 513h1v1h-1zM919 513h1v1h-1zM926 513h1v1h-1zM946 513h1v1h-1zM843 514h1v1h-1zM888 514h1v1h-1zM904 514h1v1h-1zM912 514h1v1h-1zM919 514h1v1h-1zM927 514h1v1h-1zM946 514h1v1h-1zM843 515h1v1h-1zM889 515h1v1h-1zM904 515h1v1h-1zM912 515h7v1h-7zM927 515h1v1h-1zM945 515h1v1h-1zM843 516h1v1h-1zM890 516h1v1h-1zM904 516h1v1h-1zM927 516h1v1h-1zM945 516h1v1h-1zM843 517h1v1h-1zM891 517h1v1h-1zM904 517h1v1h-1zM928 517h1v1h-1zM944 517h1v1h-1zM843 518h1v1h-1zM891 518h1v1h-1zM904 518h1v1h-1zM928 518h1v1h-1zM944 518h1v1h-1zM843 519h1v1h-1zM892 519h1v1h-1zM904 519h1v1h-1zM928 519h1v1h-1zM944 519h1v1h-1zM843 520h1v1h-1zM893 520h1v1h-1zM903 520h1v1h-1zM929 520h1v1h-1zM943 520h1v1h-1zM842 521h1v1h-1zM894 521h1v1h-1zM903 521h1v1h-1zM929 521h1v1h-1zM943 521h1v1h-1zM842 522h1v1h-1zM894 522h1v1h-1zM903 522h1v1h-1zM929 522h1v1h-1zM943 522h1v1h-1zM842 523h1v1h-1zM895 523h1v1h-1zM903 523h1v1h-1zM930 523h1v1h-1zM942 523h1v1h-1zM800 524h1v1h-1zM836 524h7v1h-7zM895 524h1v1h-1zM903 524h1v1h-1zM930 524h13v1h-13zM800 525h1v1h-1zM836 525h1v1h-1zM896 525h1v1h-1zM903 525h1v1h-1zM799 526h1v1h-1zM801 526h1v1h-1zM835 526h1v1h-1zM896 526h1v1h-1zM903 526h1v1h-1zM799 527h1v1h-1zM801 527h1v1h-1zM835 527h1v1h-1zM896 527h1v1h-1zM903 527h1v1h-1zM799 528h1v1h-1zM801 528h1v1h-1zM835 528h1v1h-1zM897 528h1v1h-1zM903 528h1v1h-1zM799 529h1v1h-1zM802 529h1v1h-1zM834 529h1v1h-1zM897 529h1v1h-1zM902 529h1v1h-1zM798 530h1v1h-1zM802 530h1v1h-1zM834 530h1v1h-1zM897 530h1v1h-1zM902 530h1v1h-1zM798 531h1v1h-1zM802 531h1v1h-1zM834 531h1v1h-1zM898 531h1v1h-1zM902 531h1v1h-1zM798 532h1v1h-1zM803 532h1v1h-1zM833 532h1v1h-1zM898 532h1v1h-1zM902 532h1v1h-1zM798 533h1v1h-1zM803 533h1v1h-1zM833 533h1v1h-1zM898 533h1v1h-1zM902 533h1v1h-1zM797 534h1v1h-1zM804 534h1v1h-1zM832 534h1v1h-1zM899 534h1v1h-1zM902 534h1v1h-1zM797 535h1v1h-1zM804 535h1v1h-1zM832 535h1v1h-1zM899 535h1v1h-1zM902 535h1v1h-1zM797 536h1v1h-1zM804 536h1v1h-1zM832 536h1v1h-1zM899 536h1v1h-1zM902 536h1v1h-1zM797 537h1v1h-1zM805 537h1v1h-1zM831 537h1v1h-1zM900 537h2v1h-2zM796 538h1v1h-1zM805 538h1v1h-1zM831 538h1v1h-1zM900 538h2v1h-2zM796 539h1v1h-1zM805 539h1v1h-1zM831 539h1v1h-1zM900 539h2v1h-2zM796 540h1v1h-1zM806 540h1v1h-1zM830 540h1v1h-1zM901 540h1v1h-1zM718 541h1v1h-1zM796 541h1v1h-1zM806 541h1v1h-1zM830 541h1v1h-1zM901 541h1v1h-1zM718 542h1v1h-1zM795 542h1v1h-1zM807 542h1v1h-1zM829 542h1v1h-1zM717 543h1v1h-1zM719 543h1v1h-1zM795 543h1v1h-1zM807 543h1v1h-1zM829 543h1v1h-1zM717 544h1v1h-1zM719 544h1v1h-1zM795 544h1v1h-1zM808 544h1v1h-1zM828 544h1v1h-1zM716 545h1v1h-1zM719 545h1v1h-1zM795 545h1v1h-1zM809 545h1v1h-1zM827 545h1v1h-1zM716 546h1v1h-1zM720 546h1v1h-1zM794 546h1v1h-1zM810 546h1v1h-1zM826 546h1v1h-1zM715 547h1v1h-1zM720 547h1v1h-1zM794 547h1v1h-1zM810 547h1v1h-1zM826 547h1v1h-1zM715 548h1v1h-1zM720 548h1v1h-1zM794 548h1v1h-1zM811 548h1v1h-1zM825 548h1v1h-1zM714 549h1v1h-1zM721 549h1v1h-1zM794 549h1v1h-1zM812 549h1v1h-1zM824 549h1v1h-1zM714 550h1v1h-1zM721 550h1v1h-1zM771 550h1v1h-1zM793 550h1v1h-1zM812 550h1v1h-1zM824 550h1v1h-1zM713 551h1v1h-1zM722 551h1v1h-1zM771 551h1v1h-1zM793 551h1v1h-1zM813 551h1v1h-1zM823 551h1v1h-1zM713 552h1v1h-1zM722 552h1v1h-1zM771 552h2v1h-2zM793 552h1v1h-1zM814 552h1v1h-1zM822 552h1v1h-1zM712 553h1v1h-1zM722 553h1v1h-1zM771 553h2v1h-2zM793 553h1v1h-1zM814 553h1v1h-1zM822 553h1v1h-1zM712 554h1v1h-1zM723 554h1v1h-1zM771 554h2v1h-2zM792 554h1v1h-1zM815 554h1v1h-1zM821 554h1v1h-1zM711 555h1v1h-1zM723 555h1v1h-1zM770 555h1v1h-1zM773 555h1v1h-1zM792 555h1v1h-1zM816 555h1v1h-1zM820 555h1v1h-1zM711 556h1v1h-1zM723 556h1v1h-1zM770 556h1v1h-1zM773 556h1v1h-1zM792 556h1v1h-1zM817 556h1v1h-1zM819 556h1v1h-1zM710 557h1v1h-1zM724 557h1v1h-1zM770 557h1v1h-1zM773 557h1v1h-1zM792 557h1v1h-1zM817 557h1v1h-1zM819 557h1v1h-1zM710 558h1v1h-1zM724 558h1v1h-1zM770 558h1v1h-1zM774 558h1v1h-1zM791 558h1v1h-1zM818 558h1v1h-1zM709 559h1v1h-1zM724 559h1v1h-1zM735 559h1v1h-1zM753 559h1v1h-1zM770 559h1v1h-1zM774 559h1v1h-1zM791 559h1v1h-1zM709 560h1v1h-1zM724 560h1v1h-1zM735 560h1v1h-1zM753 560h1v1h-1zM770 560h1v1h-1zM775 560h1v1h-1zM791 560h1v1h-1zM708 561h1v1h-1zM724 561h1v1h-1zM735 561h2v1h-2zM753 561h1v1h-1zM770 561h1v1h-1zM775 561h1v1h-1zM791 561h1v1h-1zM708 562h1v1h-1zM724 562h1v1h-1zM735 562h2v1h-2zM753 562h1v1h-1zM770 562h1v1h-1zM775 562h1v1h-1zM790 562h1v1h-1zM707 563h1v1h-1zM725 563h1v1h-1zM734 563h1v1h-1zM736 563h1v1h-1zM752 563h1v1h-1zM754 563h1v1h-1zM769 563h1v1h-1zM776 563h1v1h-1zM790 563h1v1h-1zM707 564h1v1h-1zM725 564h1v1h-1zM734 564h1v1h-1zM737 564h1v1h-1zM752 564h1v1h-1zM754 564h1v1h-1zM769 564h1v1h-1zM776 564h1v1h-1zM790 564h1v1h-1zM706 565h1v1h-1zM725 565h1v1h-1zM734 565h1v1h-1zM737 565h1v1h-1zM752 565h1v1h-1zM754 565h1v1h-1zM769 565h1v1h-1zM776 565h1v1h-1zM790 565h1v1h-1zM706 566h1v1h-1zM725 566h1v1h-1zM734 566h1v1h-1zM737 566h1v1h-1zM752 566h1v1h-1zM754 566h1v1h-1zM769 566h1v1h-1zM777 566h1v1h-1zM789 566h1v1h-1zM706 567h1v1h-1zM725 567h1v1h-1zM734 567h1v1h-1zM738 567h1v1h-1zM752 567h1v1h-1zM754 567h1v1h-1zM769 567h1v1h-1zM777 567h13v1h-13zM706 568h1v1h-1zM725 568h1v1h-1zM734 568h1v1h-1zM738 568h1v1h-1zM752 568h1v1h-1zM754 568h1v1h-1zM769 568h1v1h-1zM705 569h1v1h-1zM725 569h1v1h-1zM734 569h1v1h-1zM739 569h1v1h-1zM752 569h1v1h-1zM754 569h1v1h-1zM769 569h1v1h-1zM705 570h1v1h-1zM725 570h1v1h-1zM733 570h1v1h-1zM739 570h1v1h-1zM751 570h1v1h-1zM755 570h1v1h-1zM769 570h1v1h-1zM705 571h1v1h-1zM726 571h1v1h-1zM733 571h1v1h-1zM739 571h1v1h-1zM751 571h1v1h-1zM755 571h1v1h-1zM769 571h1v1h-1zM705 572h1v1h-1zM726 572h1v1h-1zM733 572h1v1h-1zM740 572h1v1h-1zM751 572h1v1h-1zM755 572h1v1h-1zM768 572h1v1h-1zM705 573h1v1h-1zM726 573h1v1h-1zM733 573h1v1h-1zM740 573h1v1h-1zM751 573h1v1h-1zM755 573h1v1h-1zM768 573h1v1h-1zM705 574h1v1h-1zM726 574h1v1h-1zM733 574h1v1h-1zM740 574h1v1h-1zM751 574h1v1h-1zM755 574h1v1h-1zM768 574h1v1h-1zM704 575h1v1h-1zM726 575h1v1h-1zM733 575h1v1h-1zM741 575h1v1h-1zM751 575h1v1h-1zM755 575h1v1h-1zM768 575h1v1h-1zM704 576h1v1h-1zM726 576h1v1h-1zM732 576h1v1h-1zM741 576h1v1h-1zM751 576h1v1h-1zM755 576h1v1h-1zM768 576h1v1h-1zM704 577h1v1h-1zM726 577h1v1h-1zM732 577h1v1h-1zM741 577h1v1h-1zM750 577h1v1h-1zM756 577h1v1h-1zM768 577h1v1h-1zM704 578h1v1h-1zM726 578h1v1h-1zM732 578h1v1h-1zM741 578h1v1h-1zM750 578h1v1h-1zM756 578h1v1h-1zM768 578h1v1h-1zM704 579h1v1h-1zM727 579h1v1h-1zM732 579h1v1h-1zM742 579h1v1h-1zM750 579h1v1h-1zM756 579h1v1h-1zM768 579h1v1h-1zM704 580h1v1h-1zM727 580h1v1h-1zM732 580h1v1h-1zM742 580h1v1h-1zM750 580h1v1h-1zM756 580h1v1h-1zM767 580h1v1h-1zM703 581h1v1h-1zM727 581h1v1h-1zM732 581h1v1h-1zM742 581h1v1h-1zM750 581h1v1h-1zM756 581h1v1h-1zM767 581h1v1h-1zM703 582h1v1h-1zM727 582h1v1h-1zM732 582h1v1h-1zM742 582h1v1h-1zM750 582h1v1h-1zM756 582h1v1h-1zM767 582h1v1h-1zM703 583h1v1h-1zM727 583h1v1h-1zM731 583h1v1h-1zM743 583h1v1h-1zM750 583h1v1h-1zM756 583h1v1h-1zM767 583h1v1h-1zM703 584h1v1h-1zM727 584h1v1h-1zM731 584h1v1h-1zM743 584h1v1h-1zM749 584h1v1h-1zM757 584h1v1h-1zM767 584h1v1h-1zM703 585h1v1h-1zM727 585h1v1h-1zM731 585h1v1h-1zM743 585h1v1h-1zM749 585h1v1h-1zM757 585h1v1h-1zM767 585h1v1h-1zM703 586h1v1h-1zM727 586h1v1h-1zM731 586h1v1h-1zM743 586h1v1h-1zM749 586h1v1h-1zM757 586h1v1h-1zM767 586h1v1h-1zM702 587h1v1h-1zM728 587h1v1h-1zM731 587h1v1h-1zM744 587h1v1h-1zM749 587h1v1h-1zM757 587h1v1h-1zM767 587h1v1h-1zM702 588h1v1h-1zM728 588h1v1h-1zM731 588h1v1h-1zM744 588h1v1h-1zM749 588h1v1h-1zM757 588h1v1h-1zM767 588h1v1h-1zM702 589h1v1h-1zM728 589h1v1h-1zM731 589h1v1h-1zM744 589h1v1h-1zM749 589h1v1h-1zM757 589h1v1h-1zM766 589h1v1h-1zM702 590h1v1h-1zM728 590h1v1h-1zM730 590h1v1h-1zM744 590h1v1h-1zM749 590h1v1h-1zM757 590h1v1h-1zM766 590h1v1h-1zM702 591h1v1h-1zM728 591h1v1h-1zM730 591h1v1h-1zM745 591h1v1h-1zM748 591h1v1h-1zM758 591h1v1h-1zM766 591h1v1h-1zM702 592h1v1h-1zM728 592h1v1h-1zM730 592h1v1h-1zM745 592h1v1h-1zM748 592h1v1h-1zM758 592h1v1h-1zM766 592h1v1h-1zM701 593h1v1h-1zM728 593h1v1h-1zM730 593h1v1h-1zM745 593h1v1h-1zM748 593h1v1h-1zM758 593h1v1h-1zM766 593h1v1h-1zM701 594h1v1h-1zM728 594h1v1h-1zM730 594h1v1h-1zM745 594h1v1h-1zM748 594h1v1h-1zM758 594h1v1h-1zM766 594h1v1h-1zM701 595h1v1h-1zM729 595h2v1h-2zM746 595h1v1h-1zM748 595h1v1h-1zM758 595h1v1h-1zM766 595h1v1h-1zM701 596h1v1h-1zM729 596h1v1h-1zM746 596h1v1h-1zM748 596h1v1h-1zM758 596h1v1h-1zM766 596h1v1h-1zM701 597h1v1h-1zM729 597h1v1h-1zM746 597h1v1h-1zM748 597h1v1h-1zM758 597h1v1h-1zM765 597h1v1h-1zM701 598h1v1h-1zM729 598h1v1h-1zM746 598h2v1h-2zM759 598h1v1h-1zM765 598h1v1h-1zM700 599h1v1h-1zM729 599h1v1h-1zM747 599h1v1h-1zM759 599h1v1h-1zM765 599h1v1h-1zM700 600h1v1h-1zM747 600h1v1h-1zM759 600h1v1h-1zM765 600h1v1h-1zM700 601h1v1h-1zM747 601h1v1h-1zM759 601h7v1h-7z" fill="#000080" shape-rendering="crispEdges"/>
<path d="M971 313h9v1h-9zM970 314h1v1h-1zM980 314h6v1h-6zM970 315h1v1h-1zM986 315h6v1h-6zM969 316h1v1h-1zM992 316h4v1h-4zM968 317h1v1h-1zM967 318h1v1h-1zM967 319h1v1h-1zM966 320h1v1h-1zM965 321h1v1h-1zM965 322h1v1h-1zM964 323h1v1h-1zM963 324h1v1h-1zM962 325h1v1h-1zM962 326h1v1h-1zM961 327h1v1h-1zM960 328h1v1h-1zM959 329h1v1h-1zM959 330h1v1h-1zM958 331h1v1h-1zM957 332h1v1h-1zM956 333h1v1h-1zM956 334h1v1h-1zM955 335h1v1h-1zM954 336h1v1h-1zM952 337h2v1h-2zM951 338h1v1h-1zM949 339h2v1h-2zM929 340h10v1h-10zM945 340h4v1h-4zM926 341h3v1h-3zM939 341h6v1h-6zM923 342h3v1h-3zM920 343h3v1h-3zM917 344h3v1h-3zM915 345h2v1h-2zM913 346h2v1h-2zM910 347h3v1h-3zM898 348h12v1h-12zM886 349h12v1h-12zM880 350h6v1h-6zM876 351h4v1h-4zM874 352h2v1h-2zM872 353h2v1h-2zM870 354h2v1h-2zM867 355h3v1h-3zM862 356h5v1h-5zM858 357h4v1h-4zM856 358h2v1h-2zM854 359h2v1h-2zM852 360h2v1h-2zM850 361h2v1h-2zM847 362h3v1h-3zM845 363h2v1h-2zM843 364h2v1h-2zM841 365h2v1h-2zM818 366h1v1h-1zM839 366h2v1h-2zM817 367h1v1h-1zM819 367h1v1h-1zM837 367h2v1h-2zM816 368h1v1h-1zM820 368h1v1h-1zM835 368h2v1h-2zM815 369h1v1h-1zM821 369h1v1h-1zM833 369h2v1h-2zM815 370h1v1h-1zM822 370h1v1h-1zM831 370h2v1h-2zM814 371h1v1h-1zM823 371h1v1h-1zM827 371h4v1h-4zM813 372h1v1h-1zM824 372h3v1h-3zM800 373h13v1h-13zM798 374h2v1h-2zM797 375h1v1h-1zM795 376h2v1h-2zM794 377h1v1h-1zM792 378h2v1h-2zM790 379h2v1h-2zM788 380h2v1h-2zM786 381h2v1h-2zM784 382h2v1h-2zM782 383h2v1h-2zM780 384h2v1h-2zM778 385h2v1h-2zM777 386h1v1h-1zM776 387h1v1h-1zM775 388h1v1h-1zM774 389h1v1h-1zM774 390h1v1h-1zM773 391h1v1h-1zM772 392h1v1h-1zM770 393h2v1h-2zM767 394h3v1h-3zM764 395h3v1h-3zM762 396h2v1h-2zM760 397h2v1h-2zM759 398h1v1h-1zM757 399h2v1h-2zM756 400h1v1h-1zM721 401h16v1h-16zM754 401h2v1h-2zM718 402h3v1h-3zM737 402h3v1h-3zM752 402h2v1h-2zM716 403h2v1h-2zM740 403h3v1h-3zM750 403h2v1h-2zM715 404h1v1h-1zM743 404h3v1h-3zM748 404h2v1h-2zM640 405h2v1h-2zM713 405h2v1h-2zM746 405h2v1h-2zM638 406h2v1h-2zM642 406h2v1h-2zM712 406h1v1h-1zM636 407h2v1h-2zM644 407h2v1h-2zM711 407h1v1h-1zM634 408h2v1h-2zM646 408h16v1h-16zM710 408h1v1h-1zM632 409h2v1h-2zM662 409h4v1h-4zM709 409h1v1h-1zM630 410h2v1h-2zM666 410h2v1h-2zM708 410h1v1h-1zM587 411h10v1h-10zM628 411h2v1h-2zM668 411h2v1h-2zM687 411h16v1h-16zM707 411h1v1h-1zM584 412h3v1h-3zM597 412h12v1h-12zM625 412h3v1h-3zM670 412h2v1h-2zM684 412h3v1h-3zM703 412h4v1h-4zM581 413h3v1h-3zM609 413h5v1h-5zM620 413h5v1h-5zM672 413h3v1h-3zM679 413h5v1h-5zM578 414h3v1h-3zM614 414h6v1h-6zM675 414h4v1h-4zM576 415h2v1h-2zM574 416h2v1h-2zM573 417h1v1h-1zM571 418h2v1h-2zM569 419h2v1h-2zM566 420h3v1h-3zM563 421h3v1h-3zM560 422h3v1h-3zM557 423h3v1h-3zM554 424h3v1h-3zM551 425h3v1h-3zM548 426h3v1h-3zM545 427h3v1h-3zM543 428h2v1h-2zM540 429h3v1h-3zM538 430h2v1h-2zM536 431h2v1h-2zM534 432h2v1h-2zM532 433h2v1h-2zM530 434h2v1h-2zM528 435h2v1h-2zM526 436h2v1h-2zM524 437h2v1h-2zM523 438h1v1h-1zM521 439h2v1h-2zM520 440h1v1h-1zM518 441h2v1h-2zM517 442h1v1h-1zM515 443h2v1h-2zM514 444h1v1h-1zM512 445h2v1h-2zM511 446h1v1h-1zM509 447h2v1h-2zM508 448h1v1h-1zM506 449h2v1h-2zM502 450h4v1h-4zM498 451h4v1h-4zM495 452h3v1h-3zM492 453h3v1h-3zM490 454h2v1h-2zM488 455h2v1h-2zM487 456h1v1h-1zM486 457h1v1h-1zM485 458h1v1h-1zM484 459h1v1h-1zM483 460h1v1h-1zM482 461h1v1h-1zM480 462h2v1h-2zM479 463h1v1h-1zM477 464h2v1h-2zM476 465h1v1h-1zM474 466h2v1h-2zM473 467h1v1h-1zM471 468h2v1h-2zM469 469h2v1h-2zM467 470h2v1h-2zM465 471h2v1h-2zM457 472h8v1h-8zM455 473h2v1h-2zM453 474h2v1h-2zM451 475h2v1h-2zM448 476h3v1h-3zM445 477h3v1h-3zM443 478h2v1h-2zM441 479h2v1h-2zM439 480h2v1h-2zM436 481h3v1h-3zM433 482h3v1h-3zM431 483h2v1h-2zM429 484h2v1h-2zM428 485h1v1h-1zM427 486h1v1h-1zM425 487h2v1h-2zM424 488h1v1h-1zM423 489h1v1h-1zM421 490h2v1h-2zM420 491h1v1h-1zM418 492h2v1h-2zM416 493h2v1h-2zM413 494h3v1h-3zM408 495h5v1h-5zM402 496h6v1h-6zM396 497h6v1h-6zM392 498h4v1h-4zM389 499h3v1h-3zM386 500h3v1h-3zM383 501h3v1h-3zM380 502h3v1h-3zM378 503h2v1h-2zM376 504h2v1h-2zM374 505h2v1h-2zM371 506h3v1h-3zM368 507h3v1h-3zM366 508h2v1h-2zM364 509h2v1h-2zM362 510h2v1h-2zM360 511h2v1h-2zM357 512h3v1h-3zM354 513h3v1h-3zM351 514h3v1h-3zM348 515h3v1h-3zM345 516h3v1h-3zM342 517h3v1h-3zM339 518h3v1h-3zM336 519h3v1h-3zM331 520h5v1h-5zM327 521h4v1h-4zM324 522h3v1h-3zM321 523h3v1h-3zM319 524h2v1h-2zM317 525h2v1h-2zM315 526h2v1h-2zM312 527h3v1h-3zM309 528h3v1h-3zM306 529h3v1h-3zM303 530h3v1h-3zM301 531h2v1h-2zM298 532h3v1h-3zM295 533h3v1h-3zM292 534h3v1h-3zM289 535h3v1h-3zM286 536h3v1h-3zM283 537h3v1h-3zM280 538h3v1h-3zM278 539h2v1h-2zM276 540h2v1h-2zM274 541h2v1h-2zM272 542h2v1h-2zM250 543h10v1h-10zM270 543h2v1h-2zM247 544h3v1h-3zM260 544h10v1h-10zM244 545h3v1h-3zM242 546h2v1h-2zM239 547h3v1h-3zM237 548h2v1h-2zM228 549h3v1h-3zM235 549h2v1h-2zM226 550h2v1h-2zM231 550h4v1h-4zM225 551h1v1h-1zM223 552h2v1h-2zM221 553h2v1h-2zM218 554h3v1h-3zM215 555h3v1h-3zM212 556h3v1h-3zM197 557h15v1h-15zM194 558h3v1h-3zM191 559h3v1h-3zM188 560h3v1h-3zM185 561h3v1h-3zM183 562h2v1h-2zM178 563h5v1h-5zM151 564h2v1h-2zM174 564h4v1h-4zM153 565h3v1h-3zM171 565h3v1h-3zM156 566h15v1h-15z" fill="#408080" shape-rendering="crispEdges"/>
<path d="M570 556h2v1h-2zM569 557h1v1h-1zM572 557h3v1h-3zM567 558h2v1h-2zM575 558h2v1h-2zM566 559h1v1h-1zM577 559h1v1h-1zM565 560h1v1h-1zM578 560h1v1h-1zM564 561h1v1h-1zM578 561h1v1h-1zM562 562h2v1h-2zM579 562h1v1h-1zM561 563h1v1h-1zM580 563h1v1h-1zM559 564h2v1h-2zM581 564h1v1h-1zM557 565h2v1h-2zM581 565h1v1h-1zM554 566h3v1h-3zM582 566h1v1h-1zM551 567h3v1h-3zM582 567h1v1h-1zM549 568h2v1h-2zM583 568h1v1h-1zM547 569h2v1h-2zM583 569h1v1h-1zM546 570h1v1h-1zM584 570h1v1h-1zM545 571h1v1h-1zM584 571h1v1h-1zM534 572h3v1h-3zM543 572h2v1h-2zM584 572h1v1h-1zM531 573h3v1h-3zM537 573h3v1h-3zM542 573h1v1h-1zM585 573h1v1h-1zM529 574h2v1h-2zM540 574h2v1h-2zM585 574h1v1h-1zM528 575h1v1h-1zM586 575h1v1h-1zM628 575h2v1h-2zM526 576h2v1h-2zM586 576h1v1h-1zM625 576h3v1h-3zM630 576h1v1h-1zM525 577h1v1h-1zM586 577h1v1h-1zM623 577h2v1h-2zM631 577h1v1h-1zM524 578h1v1h-1zM587 578h1v1h-1zM622 578h1v1h-1zM631 578h1v1h-1zM522 579h2v1h-2zM587 579h1v1h-1zM620 579h2v1h-2zM632 579h1v1h-1zM505 580h9v1h-9zM519 580h3v1h-3zM588 580h1v1h-1zM619 580h1v1h-1zM633 580h1v1h-1zM503 581h2v1h-2zM514 581h5v1h-5zM588 581h1v1h-1zM618 581h1v1h-1zM634 581h1v1h-1zM502 582h1v1h-1zM589 582h1v1h-1zM617 582h1v1h-1zM634 582h1v1h-1zM500 583h2v1h-2zM589 583h1v1h-1zM616 583h1v1h-1zM635 583h1v1h-1zM496 584h4v1h-4zM590 584h1v1h-1zM614 584h2v1h-2zM636 584h1v1h-1zM493 585h3v1h-3zM591 585h1v1h-1zM613 585h1v1h-1zM637 585h1v1h-1zM492 586h1v1h-1zM591 586h1v1h-1zM612 586h1v1h-1zM638 586h2v1h-2zM679 586h4v1h-4zM490 587h2v1h-2zM592 587h1v1h-1zM610 587h2v1h-2zM640 587h1v1h-1zM644 587h4v1h-4zM676 587h3v1h-3zM683 587h1v1h-1zM489 588h1v1h-1zM593 588h1v1h-1zM608 588h2v1h-2zM641 588h3v1h-3zM648 588h1v1h-1zM675 588h1v1h-1zM684 588h1v1h-1zM488 589h1v1h-1zM593 589h1v1h-1zM597 589h11v1h-11zM649 589h1v1h-1zM675 589h1v1h-1zM685 589h1v1h-1zM487 590h1v1h-1zM594 590h3v1h-3zM650 590h1v1h-1zM658 590h2v1h-2zM674 590h1v1h-1zM685 590h1v1h-1zM485 591h2v1h-2zM651 591h1v1h-1zM656 591h2v1h-2zM660 591h1v1h-1zM673 591h1v1h-1zM686 591h1v1h-1zM483 592h2v1h-2zM652 592h1v1h-1zM654 592h2v1h-2zM661 592h1v1h-1zM672 592h1v1h-1zM687 592h1v1h-1zM479 593h4v1h-4zM653 593h1v1h-1zM662 593h2v1h-2zM672 593h1v1h-1zM688 593h1v1h-1zM469 594h10v1h-10zM664 594h1v1h-1zM671 594h1v1h-1zM689 594h2v1h-2zM709 594h5v1h-5zM467 595h2v1h-2zM665 595h6v1h-6zM691 595h1v1h-1zM705 595h4v1h-4zM714 595h3v1h-3zM465 596h2v1h-2zM692 596h2v1h-2zM702 596h3v1h-3zM717 596h4v1h-4zM463 597h2v1h-2zM694 597h8v1h-8zM721 597h5v1h-5zM460 598h3v1h-3zM726 598h2v1h-2zM455 599h5v1h-5zM728 599h4v1h-4zM449 600h6v1h-6zM732 600h6v1h-6zM446 601h3v1h-3zM738 601h4v1h-4z" fill="#FF8040" shape-rendering="crispEdges"/>
<rect x="392" y="196" width="2" height="2" fill="#808080"/>
<rect x="563" y="190" width="2" height="2" fill="#808080"/>
<rect x="569" y="190" width="2" height="2" fill="#808080"/>
<rect x="575" y="190" width="2" height="2" fill="#808080"/>
<rect x="581" y="190" width="2" height="2" fill="#808080"/>
<rect x="587" y="185" width="2" height="2" fill="#808080"/>
<rect x="593" y="185" width="2" height="2" fill="#808080"/>
<rect x="599" y="191" width="2" height="2" fill="#808080"/>
<rect x="605" y="191" width="2" height="2" fill="#808080"/>
<rect x="610" y="191" width="2" height="2" fill="#808080"/>
<rect x="616" y="183" width="2" height="2" fill="#808080"/>
<rect x="622" y="175" width="2" height="2" fill="#808080"/>
<rect x="628" y="175" width="2" height="2" fill="#808080"/>
<rect x="634" y="173" width="2" height="2" fill="#808080"/>
<rect x="640" y="173" width="2" height="2" fill="#808080"/>
<rect x="646" y="173" width="2" height="2" fill="#808080"/>
<rect x="652" y="173" width="2" height="2" fill="#808080"/>
<rect x="658" y="173" width="2" height="2" fill="#808080"/>
<rect x="664" y="173" width="2" height="2" fill="#808080"/>
<rect x="669" y="183" width="2" height="2" fill="#808080"/>
<rect x="675" y="183" width="2" height="2" fill="#808080"/>
<rect x="681" y="183" width="2" height="2" fill="#808080"/>
<rect x="687" y="183" width="2" height="2" fill="#808080"/>
<rect x="693" y="166" width="2" height="2" fill="#808080"/>
<rect x="699" y="141" width="2" height="2" fill="#808080"/>
<rect x="705" y="151" width="2" height="2" fill="#808080"/>
<rect x="711" y="69" width="2" height="2" fill="#808080"/>
<rect x="734" y="220" width="2" height="2" fill="#808080"/>
<rect x="740" y="237" width="2" height="2" fill="#808080"/>
<rect x="746" y="237" width="2" height="2" fill="#808080"/>
<rect x="752" y="179" width="2" height="2" fill="#808080"/>
<rect x="758" y="179" width="2" height="2" fill="#808080"/>
<rect x="764" y="179" width="2" height="2" fill="#808080"/>
<rect x="770" y="291" width="2" height="2" fill="#808080"/>
<rect x="776" y="295" width="2" height="2" fill="#808080"/>
<rect x="782" y="297" width="2" height="2" fill="#808080"/>
<rect x="788" y="297" width="2" height="2" fill="#808080"/>
<rect x="793" y="334" width="2" height="2" fill="#808080"/>
<rect x="799" y="361" width="2" height="2" fill="#808080"/>
<rect x="805" y="351" width="2" height="2" fill="#808080"/>
<rect x="811" y="333" width="2" height="2" fill="#808080"/>
<rect x="817" y="353" width="2" height="2" fill="#808080"/>
<rect x="829" y="343" width="2" height="2" fill="#808080"/>
<rect x="835" y="329" width="2" height="2" fill="#808080"/>
<rect x="841" y="357" width="2" height="2" fill="#808080"/>
<rect x="847" y="331" width="2" height="2" fill="#808080"/>
<rect x="852" y="316" width="2" height="2" fill="#808080"/>
<rect x="858" y="322" width="2" height="2" fill="#808080"/>
<rect x="864" y="349" width="2" height="2" fill="#808080"/>
<rect x="870" y="297" width="2" height="2" fill="#808080"/>
<rect x="876" y="355" width="2" height="2" fill="#808080"/>
<rect x="882" y="334" width="2" height="2" fill="#808080"/>
<rect x="888" y="341" width="2" height="2" fill="#808080"/>
<rect x="894" y="305" width="2" height="2" fill="#808080"/>
<rect x="900" y="305" width="2" height="2" fill="#808080"/>
<rect x="906" y="331" width="2" height="2" fill="#808080"/>
<rect x="911" y="331" width="2" height="2" fill="#808080"/>
<rect x="917" y="365" width="2" height="2" fill="#808080"/>
<rect x="923" y="331" width="2" height="2" fill="#808080"/>
<rect x="929" y="331" width="2" height="2" fill="#808080"/>
<rect x="935" y="298" width="2" height="2" fill="#808080"/>
<rect x="941" y="298" width="2" height="2" fill="#808080"/>
<rect x="947" y="331" width="2" height="2" fill="#808080"/>
<rect x="953" y="298" width="2" height="2" fill="#808080"/>
<rect x="959" y="263" width="2" height="2" fill="#808080"/>
<rect x="965" y="263" width="2" height="2" fill="#808080"/>
<rect x="970" y="263" width="2" height="2" fill="#808080"/>
<rect x="976" y="263" width="2" height="2" fill="#808080"/>
<rect x="982" y="230" width="2" height="2" fill="#808080"/>
<rect x="988" y="230" width="2" height="2" fill="#808080"/>
<rect x="994" y="263" width="2" height="2" fill="#808080"/>
<rect x="717" y="347" width="2" height="2" fill="#808080"/>
<rect x="723" y="301" width="2" height="2" fill="#808080"/>
<rect x="728" y="301" width="2" height="2" fill="#808080"/>
<path d="M587 599h3v1h-3zM584 600h3v1h-3zM590 600h3v1h-3zM582 601h2v1h-2zM593 601h2v1h-2z" fill="#000000" shape-rendering="crispEdges"/>
<path d="M629 597h1v1h-1zM627 598h2v1h-2zM630 598h2v1h-2zM626 599h1v1h-1zM632 599h1v1h-1zM624 600h2v1h-2zM633 600h2v1h-2zM617 601h7v1h-7zM635 601h1v1h-1z" fill="#000000" shape-rendering="crispEdges"/>
<path d="M670 593h1v1h-1zM669 594h1v1h-1zM671 594h1v1h-1zM669 595h1v1h-1zM672 595h1v1h-1zM668 596h1v1h-1zM672 596h1v1h-1zM668 597h1v1h-1zM673 597h1v1h-1zM667 598h1v1h-1zM674 598h1v1h-1zM666 599h1v1h-1zM675 599h1v1h-1zM666 600h1v1h-1zM675 600h1v1h-1zM665 601h1v1h-1zM676 601h1v1h-1z" fill="#000000" shape-rendering="crispEdges"/>
<path d="M877 541h1v1h-1zM954 541h18v1h-18zM876 542h2v1h-2zM953 542h1v1h-1zM971 542h1v1h-1zM876 543h1v1h-1zM878 543h1v1h-1zM953 543h1v1h-1zM972 543h1v1h-1zM875 544h1v1h-1zM878 544h1v1h-1zM952 544h1v1h-1zM972 544h1v1h-1zM853 545h3v1h-3zM874 545h1v1h-1zM879 545h1v1h-1zM952 545h1v1h-1zM972 545h1v1h-1zM852 546h1v1h-1zM856 546h4v1h-4zM874 546h1v1h-1zM879 546h1v1h-1zM951 546h1v1h-1zM973 546h1v1h-1zM852 547h1v1h-1zM860 547h1v1h-1zM873 547h1v1h-1zM880 547h1v1h-1zM950 547h1v1h-1zM973 547h1v1h-1zM851 548h1v1h-1zM861 548h1v1h-1zM872 548h1v1h-1zM880 548h1v1h-1zM950 548h1v1h-1zM973 548h1v1h-1zM851 549h1v1h-1zM862 549h1v1h-1zM872 549h1v1h-1zM880 549h1v1h-1zM949 549h1v1h-1zM974 549h1v1h-1zM850 550h1v1h-1zM863 550h1v1h-1zM870 550h2v1h-2zM881 550h1v1h-1zM907 550h1v1h-1zM949 550h1v1h-1zM974 550h1v1h-1zM850 551h1v1h-1zM864 551h1v1h-1zM867 551h3v1h-3zM881 551h1v1h-1zM907 551h2v1h-2zM948 551h1v1h-1zM974 551h1v1h-1zM849 552h1v1h-1zM865 552h2v1h-2zM882 552h1v1h-1zM906 552h1v1h-1zM908 552h1v1h-1zM948 552h1v1h-1zM975 552h1v1h-1zM849 553h1v1h-1zM882 553h1v1h-1zM906 553h1v1h-1zM909 553h1v1h-1zM948 553h1v1h-1zM975 553h1v1h-1zM848 554h1v1h-1zM883 554h1v1h-1zM906 554h1v1h-1zM909 554h1v1h-1zM947 554h1v1h-1zM975 554h1v1h-1zM847 555h1v1h-1zM883 555h2v1h-2zM905 555h1v1h-1zM910 555h1v1h-1zM947 555h1v1h-1zM976 555h1v1h-1zM847 556h1v1h-1zM885 556h3v1h-3zM905 556h1v1h-1zM910 556h1v1h-1zM947 556h1v1h-1zM976 556h1v1h-1zM846 557h1v1h-1zM888 557h2v1h-2zM905 557h1v1h-1zM911 557h1v1h-1zM947 557h1v1h-1zM976 557h1v1h-1zM845 558h1v1h-1zM889 558h1v1h-1zM904 558h1v1h-1zM911 558h1v1h-1zM946 558h1v1h-1zM977 558h1v1h-1zM845 559h1v1h-1zM890 559h1v1h-1zM904 559h1v1h-1zM912 559h19v1h-19zM946 559h1v1h-1zM977 559h7v1h-7zM844 560h1v1h-1zM890 560h1v1h-1zM903 560h1v1h-1zM931 560h1v1h-1zM946 560h1v1h-1zM984 560h1v1h-1zM843 561h1v1h-1zM891 561h1v1h-1zM903 561h1v1h-1zM932 561h1v1h-1zM946 561h1v1h-1zM985 561h1v1h-1zM843 562h1v1h-1zM891 562h1v1h-1zM903 562h1v1h-1zM932 562h1v1h-1zM945 562h1v1h-1zM985 562h1v1h-1zM841 563h2v1h-2zM892 563h1v1h-1zM902 563h1v1h-1zM933 563h1v1h-1zM945 563h1v1h-1zM986 563h1v1h-1zM838 564h3v1h-3zM892 564h1v1h-1zM902 564h1v1h-1zM934 564h1v1h-1zM945 564h1v1h-1zM987 564h1v1h-1zM800 565h1v1h-1zM836 565h2v1h-2zM893 565h1v1h-1zM902 565h1v1h-1zM935 565h1v1h-1zM945 565h1v1h-1zM988 565h1v1h-1zM799 566h1v1h-1zM801 566h2v1h-2zM835 566h1v1h-1zM893 566h1v1h-1zM901 566h1v1h-1zM935 566h1v1h-1zM944 566h1v1h-1zM988 566h1v1h-1zM799 567h1v1h-1zM803 567h2v1h-2zM833 567h2v1h-2zM894 567h1v1h-1zM900 567h2v1h-2zM936 567h1v1h-1zM944 567h1v1h-1zM989 567h7v1h-7zM798 568h1v1h-1zM805 568h2v1h-2zM832 568h1v1h-1zM894 568h1v1h-1zM898 568h2v1h-2zM937 568h1v1h-1zM944 568h1v1h-1zM797 569h1v1h-1zM807 569h1v1h-1zM831 569h1v1h-1zM895 569h3v1h-3zM938 569h1v1h-1zM944 569h1v1h-1zM797 570h1v1h-1zM808 570h1v1h-1zM830 570h1v1h-1zM895 570h1v1h-1zM938 570h1v1h-1zM943 570h1v1h-1zM796 571h1v1h-1zM809 571h2v1h-2zM829 571h1v1h-1zM939 571h1v1h-1zM943 571h1v1h-1zM795 572h1v1h-1zM811 572h1v1h-1zM827 572h2v1h-2zM940 572h1v1h-1zM943 572h1v1h-1zM795 573h1v1h-1zM812 573h1v1h-1zM826 573h1v1h-1zM941 573h1v1h-1zM943 573h1v1h-1zM794 574h1v1h-1zM813 574h1v1h-1zM825 574h1v1h-1zM941 574h2v1h-2zM794 575h1v1h-1zM814 575h1v1h-1zM823 575h2v1h-2zM942 575h1v1h-1zM794 576h1v1h-1zM815 576h2v1h-2zM821 576h2v1h-2zM793 577h1v1h-1zM817 577h1v1h-1zM819 577h2v1h-2zM793 578h1v1h-1zM818 578h1v1h-1zM793 579h1v1h-1zM793 580h1v1h-1zM792 581h1v1h-1zM792 582h1v1h-1zM777 583h1v1h-1zM792 583h1v1h-1zM718 584h1v1h-1zM776 584h1v1h-1zM778 584h1v1h-1zM792 584h1v1h-1zM717 585h1v1h-1zM719 585h1v1h-1zM776 585h1v1h-1zM778 585h1v1h-1zM792 585h1v1h-1zM717 586h1v1h-1zM720 586h1v1h-1zM775 586h1v1h-1zM779 586h1v1h-1zM791 586h1v1h-1zM716 587h1v1h-1zM720 587h1v1h-1zM775 587h1v1h-1zM779 587h1v1h-1zM791 587h1v1h-1zM715 588h1v1h-1zM721 588h1v1h-1zM774 588h1v1h-1zM780 588h1v1h-1zM791 588h1v1h-1zM714 589h1v1h-1zM722 589h1v1h-1zM773 589h1v1h-1zM781 589h1v1h-1zM791 589h1v1h-1zM714 590h1v1h-1zM723 590h1v1h-1zM773 590h1v1h-1zM781 590h1v1h-1zM790 590h1v1h-1zM713 591h1v1h-1zM723 591h1v1h-1zM772 591h1v1h-1zM782 591h1v1h-1zM790 591h1v1h-1zM712 592h1v1h-1zM724 592h1v1h-1zM772 592h1v1h-1zM782 592h1v1h-1zM790 592h1v1h-1zM711 593h1v1h-1zM725 593h1v1h-1zM771 593h1v1h-1zM783 593h1v1h-1zM790 593h1v1h-1zM710 594h1v1h-1zM725 594h1v1h-1zM770 594h1v1h-1zM784 594h2v1h-2zM789 594h1v1h-1zM709 595h1v1h-1zM726 595h1v1h-1zM770 595h1v1h-1zM786 595h2v1h-2zM789 595h1v1h-1zM709 596h1v1h-1zM727 596h1v1h-1zM769 596h1v1h-1zM788 596h2v1h-2zM708 597h1v1h-1zM727 597h1v1h-1zM768 597h1v1h-1zM707 598h1v1h-1zM728 598h1v1h-1zM767 598h1v1h-1zM705 599h2v1h-2zM728 599h1v1h-1zM732 599h6v1h-6zM752 599h3v1h-3zM767 599h1v1h-1zM702 600h3v1h-3zM729 600h3v1h-3zM738 600h6v1h-6zM749 600h3v1h-3zM755 600h3v1h-3zM766 600h1v1h-1zM700 601h2v1h-2zM744 601h5v1h-5zM758 601h8v1h-8z" fill="#000000" shape-rendering="crispEdges"/>
<path d="M659 267h337v1h-337zM659 268h1v1h-1zM658 269h1v1h-1zM658 270h1v1h-1zM658 271h1v1h-1zM658 272h1v1h-1zM657 273h1v1h-1zM657 274h1v1h-1zM657 275h1v1h-1zM657 276h1v1h-1zM656 277h1v1h-1zM656 278h1v1h-1zM656 279h1v1h-1zM656 280h1v1h-1zM655 281h1v1h-1zM655 282h1v1h-1zM655 283h1v1h-1zM655 284h1v1h-1zM654 285h1v1h-1zM654 286h1v1h-1zM654 287h1v1h-1zM654 288h1v1h-1zM653 289h1v1h-1zM653 290h1v1h-1zM653 291h1v1h-1zM652 292h1v1h-1zM652 293h1v1h-1zM651 294h1v1h-1zM651 295h1v1h-1zM650 296h1v1h-1zM650 297h1v1h-1zM649 298h1v1h-1zM649 299h1v1h-1zM648 300h1v1h-1zM648 301h1v1h-1zM647 302h1v1h-1zM647 303h1v1h-1zM647 304h1v1h-1zM646 305h1v1h-1zM646 306h1v1h-1zM646 307h1v1h-1zM645 308h1v1h-1zM645 309h1v1h-1zM645 310h1v1h-1zM644 311h1v1h-1zM644 312h1v1h-1zM644 313h1v1h-1zM643 314h1v1h-1zM643 315h1v1h-1zM643 316h1v1h-1zM642 317h1v1h-1zM642 318h1v1h-1zM642 319h1v1h-1zM641 320h1v1h-1zM641 321h1v1h-1zM641 322h1v1h-1zM640 323h1v1h-1zM640 324h1v1h-1zM639 325h1v1h-1zM639 326h1v1h-1zM638 327h1v1h-1zM638 328h1v1h-1zM637 329h1v1h-1zM637 330h1v1h-1zM636 331h1v1h-1zM636 332h1v1h-1zM635 333h1v1h-1zM635 334h1v1h-1zM634 335h1v1h-1zM634 336h1v1h-1zM633 337h1v1h-1zM633 338h1v1h-1zM632 339h1v1h-1zM632 340h1v1h-1zM631 341h1v1h-1zM631 342h1v1h-1zM630 343h1v1h-1zM630 344h1v1h-1zM629 345h1v1h-1zM628 346h1v1h-1zM628 347h1v1h-1zM627 348h1v1h-1zM626 349h1v1h-1zM626 350h1v1h-1zM625 351h1v1h-1zM624 352h1v1h-1zM624 353h1v1h-1zM623 354h1v1h-1zM622 355h1v1h-1zM622 356h1v1h-1zM621 357h1v1h-1zM621 358h1v1h-1zM620 359h1v1h-1zM620 360h1v1h-1zM619 361h1v1h-1zM619 362h1v1h-1zM618 363h1v1h-1zM618 364h1v1h-1zM617 365h1v1h-1zM616 366h1v1h-1zM616 367h1v1h-1zM615 368h1v1h-1zM615 369h1v1h-1zM614 370h1v1h-1zM614 371h1v1h-1zM613 372h1v1h-1zM613 373h1v1h-1zM612 374h1v1h-1zM612 375h1v1h-1zM611 376h1v1h-1zM611 377h1v1h-1zM610 378h1v1h-1zM610 379h1v1h-1zM609 380h1v1h-1zM609 381h1v1h-1zM608 382h1v1h-1zM608 383h1v1h-1zM607 384h1v1h-1zM607 385h1v1h-1zM606 386h1v1h-1zM606 387h1v1h-1zM605 388h1v1h-1zM605 389h1v1h-1zM604 390h1v1h-1zM604 391h1v1h-1zM603 392h1v1h-1zM603 393h1v1h-1zM602 394h1v1h-1zM602 395h1v1h-1zM601 396h1v1h-1zM601 397h1v1h-1zM600 398h1v1h-1zM599 399h1v1h-1zM599 400h1v1h-1zM598 401h1v1h-1zM598 402h1v1h-1zM597 403h1v1h-1zM596 404h1v1h-1zM596 405h1v1h-1zM595 406h1v1h-1zM595 407h1v1h-1zM594 408h1v1h-1zM593 409h1v1h-1zM593 410h1v1h-1zM592 411h1v1h-1zM592 412h1v1h-1zM591 413h1v1h-1zM590 414h1v1h-1zM590 415h1v1h-1zM589 416h1v1h-1zM589 417h1v1h-1zM582 418h7v1h-7zM581 419h1v1h-1zM580 420h1v1h-1zM579 421h1v1h-1zM578 422h1v1h-1zM577 423h1v1h-1zM576 424h1v1h-1zM575 425h1v1h-1zM573 426h2v1h-2zM572 427h1v1h-1zM571 428h1v1h-1zM570 429h1v1h-1zM569 430h1v1h-1zM568 431h1v1h-1zM567 432h1v1h-1zM566 433h1v1h-1zM565 434h1v1h-1zM563 435h2v1h-2zM561 436h2v1h-2zM559 437h2v1h-2zM557 438h2v1h-2zM554 439h3v1h-3zM552 440h2v1h-2zM551 441h1v1h-1zM549 442h2v1h-2zM548 443h1v1h-1zM547 444h1v1h-1zM546 445h1v1h-1zM545 446h1v1h-1zM544 447h1v1h-1zM544 448h1v1h-1zM543 449h1v1h-1zM542 450h1v1h-1zM541 451h1v1h-1zM540 452h1v1h-1zM540 453h1v1h-1zM539 454h1v1h-1zM539 455h1v1h-1zM538 456h1v1h-1zM538 457h1v1h-1zM537 458h1v1h-1zM537 459h1v1h-1zM536 460h1v1h-1zM536 461h1v1h-1zM535 462h1v1h-1zM534 463h1v1h-1zM532 464h2v1h-2zM531 465h1v1h-1zM530 466h1v1h-1zM529 467h1v1h-1zM528 468h1v1h-1zM526 469h2v1h-2zM525 470h1v1h-1zM524 471h1v1h-1zM523 472h1v1h-1zM522 473h1v1h-1zM521 474h1v1h-1zM520 475h1v1h-1zM519 476h1v1h-1zM518 477h1v1h-1zM517 478h1v1h-1zM516 479h1v1h-1zM516 480h1v1h-1zM515 481h1v1h-1zM515 482h1v1h-1zM514 483h1v1h-1zM514 484h1v1h-1zM513 485h1v1h-1zM513 486h1v1h-1zM512 487h1v1h-1zM512 488h1v1h-1zM511 489h1v1h-1zM510 490h1v1h-1zM508 491h2v1h-2zM507 492h1v1h-1zM506 493h1v1h-1zM505 494h1v1h-1zM504 495h1v1h-1zM504 496h1v1h-1zM503 497h1v1h-1zM503 498h1v1h-1zM502 499h1v1h-1zM502 500h1v1h-1zM501 501h1v1h-1zM501 502h1v1h-1zM500 503h1v1h-1zM500 504h1v1h-1zM499 505h1v1h-1zM498 506h1v1h-1zM498 507h1v1h-1zM497 508h1v1h-1zM497 509h1v1h-1zM496 510h1v1h-1zM496 511h1v1h-1zM495 512h1v1h-1zM495 513h1v1h-1zM494 514h1v1h-1zM494 515h1v1h-1zM487 516h7v1h-7zM487 517h1v1h-1zM486 518h1v1h-1zM486 519h1v1h-1zM485 520h1v1h-1zM485 521h1v1h-1zM484 522h1v1h-1zM484 523h1v1h-1zM483 524h1v1h-1zM483 525h1v1h-1zM470 526h13v1h-13zM469 527h1v1h-1zM469 528h1v1h-1zM468 529h1v1h-1zM468 530h1v1h-1zM467 531h1v1h-1zM467 532h1v1h-1zM466 533h1v1h-1zM466 534h1v1h-1zM465 535h1v1h-1zM465 536h1v1h-1zM464 537h1v1h-1zM463 538h1v1h-1zM463 539h1v1h-1zM462 540h1v1h-1zM462 541h1v1h-1zM461 542h1v1h-1zM461 543h1v1h-1zM460 544h1v1h-1zM460 545h1v1h-1zM459 546h1v1h-1zM459 547h1v1h-1zM452 548h7v1h-7zM451 549h1v1h-1zM449 550h2v1h-2zM448 551h1v1h-1zM447 552h1v1h-1zM428 553h19v1h-19zM428 554h1v1h-1zM427 555h1v1h-1zM427 556h1v1h-1zM426 557h1v1h-1zM426 558h1v1h-1zM425 559h1v1h-1zM425 560h1v1h-1zM424 561h1v1h-1zM424 562h1v1h-1zM423 563h1v1h-1zM417 564h7v1h-7zM416 565h1v1h-1zM415 566h1v1h-1zM414 567h1v1h-1zM413 568h1v1h-1zM412 569h1v1h-1zM405 570h7v1h-7zM404 571h1v1h-1zM402 572h2v1h-2zM401 573h1v1h-1zM400 574h1v1h-1zM399 575h1v1h-1zM398 576h1v1h-1zM396 577h2v1h-2zM395 578h1v1h-1zM394 579h1v1h-1zM393 580h1v1h-1zM392 581h1v1h-1zM391 582h1v1h-1zM390 583h1v1h-1zM389 584h1v1h-1zM388 585h1v1h-1zM387 586h1v1h-1zM386 587h1v1h-1zM384 588h2v1h-2zM383 589h1v1h-1zM382 590h1v1h-1zM375 591h7v1h-7zM374 592h1v1h-1zM373 593h1v1h-1zM372 594h1v1h-1zM371 595h1v1h-1zM370 596h1v1h-1zM363 597h7v1h-7zM362 598h1v1h-1zM361 599h1v1h-1zM360 600h1v1h-1zM359 601h1v1h-1zM358 602h1v1h-1z" fill="#00FFFF" shape-rendering="crispEdges"/>
<path d="M151 339h3v1h-3zM154 340h5v1h-5zM159 341h3v1h-3zM162 342h4v1h-4zM166 343h11v1h-11zM177 344h3v1h-3zM180 345h3v1h-3zM183 346h2v1h-2zM185 347h2v1h-2zM187 348h2v1h-2zM189 349h1v1h-1zM190 350h2v1h-2zM192 351h2v1h-2zM194 352h3v1h-3zM197 353h3v1h-3zM200 354h3v1h-3zM203 355h2v1h-2zM205 356h2v1h-2zM215 356h3v1h-3zM207 357h2v1h-2zM212 357h3v1h-3zM218 357h3v1h-3zM209 358h3v1h-3zM221 358h3v1h-3zM233 358h4v1h-4zM224 359h3v1h-3zM230 359h3v1h-3zM237 359h6v1h-6zM227 360h3v1h-3zM243 360h9v1h-9zM252 361h1v1h-1zM253 362h1v1h-1zM254 363h2v1h-2zM256 364h1v1h-1zM257 365h3v1h-3zM260 366h6v1h-6zM266 367h4v1h-4zM270 368h2v1h-2zM272 369h2v1h-2zM274 370h4v1h-4zM278 371h4v1h-4zM282 372h2v1h-2zM284 373h2v1h-2zM286 374h4v1h-4zM290 375h5v1h-5zM295 376h3v1h-3zM298 377h2v1h-2zM300 378h2v1h-2zM302 379h2v1h-2zM304 380h3v1h-3zM307 381h5v1h-5zM312 382h3v1h-3zM315 383h2v1h-2zM317 384h2v1h-2zM327 384h2v1h-2zM319 385h2v1h-2zM324 385h3v1h-3zM329 385h2v1h-2zM321 386h3v1h-3zM331 386h2v1h-2zM333 387h2v1h-2zM335 388h2v1h-2zM337 389h2v1h-2zM339 390h2v1h-2zM341 391h2v1h-2zM343 392h2v1h-2zM345 393h2v1h-2zM347 394h2v1h-2zM349 395h2v1h-2zM351 396h2v1h-2zM353 397h2v1h-2zM355 398h2v1h-2zM357 399h2v1h-2zM359 400h1v1h-1zM360 401h1v1h-1zM361 402h1v1h-1zM362 403h1v1h-1zM363 404h3v1h-3zM366 405h6v1h-6zM372 406h6v1h-6zM378 407h4v1h-4zM382 408h2v1h-2zM384 409h1v1h-1zM385 410h2v1h-2zM387 411h2v1h-2zM389 412h3v1h-3zM392 413h3v1h-3zM395 414h3v1h-3zM398 415h2v1h-2zM400 416h2v1h-2zM402 417h2v1h-2zM404 418h3v1h-3zM407 419h3v1h-3zM410 420h3v1h-3zM413 421h3v1h-3zM416 422h3v1h-3zM419 423h3v1h-3zM422 424h2v1h-2zM424 425h1v1h-1zM425 426h2v1h-2zM427 427h1v1h-1zM428 428h3v1h-3zM431 429h6v1h-6zM437 430h6v1h-6zM443 431h4v1h-4zM447 432h2v1h-2zM449 433h2v1h-2zM451 434h2v1h-2zM453 435h2v1h-2zM455 436h2v1h-2zM457 437h4v1h-4zM461 438h4v1h-4zM465 439h2v1h-2zM467 440h2v1h-2zM469 441h3v1h-3zM472 442h3v1h-3zM475 443h2v1h-2zM477 444h2v1h-2zM479 445h2v1h-2zM481 446h3v1h-3zM484 447h2v1h-2zM486 448h3v1h-3zM489 449h3v1h-3zM492 450h4v1h-4zM496 451h4v1h-4zM500 452h2v1h-2zM502 453h2v1h-2zM504 454h2v1h-2zM506 455h2v1h-2zM508 456h2v1h-2zM510 457h3v1h-3zM513 458h3v1h-3zM516 459h3v1h-3zM519 460h3v1h-3zM522 461h2v1h-2zM524 462h2v1h-2zM526 463h2v1h-2zM528 464h3v1h-3zM531 465h3v1h-3zM534 466h3v1h-3zM537 467h3v1h-3zM540 468h7v1h-7zM547 469h1v1h-1zM548 470h1v1h-1zM549 471h1v1h-1zM550 472h1v1h-1zM551 473h1v1h-1zM552 474h1v1h-1zM553 475h2v1h-2zM555 476h1v1h-1zM556 477h2v1h-2zM558 478h1v1h-1zM559 479h2v1h-2zM561 480h1v1h-1zM562 481h2v1h-2zM564 482h1v1h-1zM565 483h2v1h-2zM567 484h2v1h-2zM569 485h2v1h-2zM571 486h2v1h-2zM573 487h2v1h-2zM575 488h3v1h-3zM578 489h3v1h-3zM581 490h2v1h-2zM583 491h2v1h-2zM585 492h2v1h-2zM587 493h9v1h-9zM596 494h3v1h-3zM599 495h2v1h-2zM601 496h2v1h-2zM603 497h2v1h-2zM605 498h2v1h-2zM607 499h2v1h-2zM609 500h2v1h-2zM611 501h1v1h-1zM612 502h2v1h-2zM614 503h2v1h-2zM616 504h2v1h-2zM618 505h1v1h-1zM619 506h1v1h-1zM620 507h2v1h-2zM622 508h1v1h-1zM623 509h1v1h-1zM624 510h2v1h-2zM626 511h1v1h-1zM627 512h2v1h-2zM629 513h3v1h-3zM632 514h4v1h-4zM636 515h2v1h-2zM638 516h2v1h-2zM640 517h2v1h-2zM642 518h2v1h-2zM644 519h2v1h-2zM646 520h2v1h-2zM648 521h2v1h-2zM650 522h2v1h-2zM669 522h2v1h-2zM652 523h2v1h-2zM667 523h2v1h-2zM671 523h1v1h-1zM654 524h2v1h-2zM664 524h3v1h-3zM672 524h1v1h-1zM656 525h2v1h-2zM661 525h3v1h-3zM673 525h1v1h-1zM658 526h3v1h-3zM674 526h1v1h-1zM675 527h1v1h-1zM676 528h1v1h-1zM677 529h1v1h-1zM678 530h1v1h-1zM679 531h2v1h-2zM681 532h1v1h-1zM682 533h9v1h-9zM691 534h4v1h-4zM695 535h1v1h-1zM696 536h1v1h-1zM697 537h1v1h-1zM698 538h1v1h-1zM699 539h1v1h-1zM703 539h6v1h-6zM700 540h3v1h-3zM709 540h4v1h-4zM713 541h2v1h-2zM715 542h1v1h-1zM716 543h2v1h-2zM718 544h1v1h-1zM719 545h1v1h-1zM980 545h16v1h-16zM720 546h1v1h-1zM969 546h11v1h-11zM721 547h2v1h-2zM738 547h4v1h-4zM957 547h12v1h-12zM723 548h1v1h-1zM732 548h6v1h-6zM742 548h2v1h-2zM951 548h6v1h-6zM724 549h8v1h-8zM744 549h2v1h-2zM941 549h10v1h-10zM746 550h2v1h-2zM939 550h2v1h-2zM748 551h2v1h-2zM762 551h12v1h-12zM937 551h2v1h-2zM750 552h2v1h-2zM756 552h6v1h-6zM774 552h4v1h-4zM935 552h2v1h-2zM752 553h4v1h-4zM778 553h2v1h-2zM932 553h3v1h-3zM780 554h1v1h-1zM927 554h5v1h-5zM781 555h2v1h-2zM904 555h23v1h-23zM783 556h3v1h-3zM900 556h4v1h-4zM786 557h6v1h-6zM870 557h3v1h-3zM897 557h3v1h-3zM792 558h29v1h-29zM868 558h2v1h-2zM873 558h3v1h-3zM892 558h5v1h-5zM821 559h6v1h-6zM845 559h6v1h-6zM866 559h2v1h-2zM876 559h16v1h-16zM827 560h18v1h-18zM851 560h15v1h-15z" fill="#00FF00" shape-rendering="crispEdges"/>
<path d="M818 78h1v1h-1zM818 79h1v1h-1zM818 80h1v1h-1zM817 81h1v1h-1zM819 81h1v1h-1zM817 82h1v1h-1zM819 82h1v1h-1zM817 83h1v1h-1zM819 83h1v1h-1zM817 84h1v1h-1zM819 84h1v1h-1zM816 85h1v1h-1zM820 85h1v1h-1zM816 86h1v1h-1zM820 86h1v1h-1zM816 87h1v1h-1zM820 87h1v1h-1zM816 88h1v1h-1zM820 88h1v1h-1zM816 89h1v1h-1zM820 89h1v1h-1zM815 90h1v1h-1zM821 90h1v1h-1zM815 91h1v1h-1zM821 91h1v1h-1zM815 92h1v1h-1zM821 92h1v1h-1zM815 93h1v1h-1zM821 93h1v1h-1zM476 94h12v1h-12zM499 94h1v1h-1zM517 94h95v1h-95zM623 94h19v1h-19zM659 94h48v1h-48zM814 94h1v1h-1zM822 94h1v1h-1zM966 94h6v1h-6zM475 95h1v1h-1zM488 95h1v1h-1zM498 95h1v1h-1zM500 95h1v1h-1zM516 95h1v1h-1zM612 95h1v1h-1zM622 95h1v1h-1zM642 95h1v1h-1zM658 95h1v1h-1zM707 95h1v1h-1zM814 95h1v1h-1zM822 95h1v1h-1zM965 95h1v1h-1zM972 95h1v1h-1zM474 96h1v1h-1zM489 96h1v1h-1zM497 96h1v1h-1zM501 96h1v1h-1zM515 96h1v1h-1zM613 96h1v1h-1zM621 96h1v1h-1zM643 96h1v1h-1zM657 96h1v1h-1zM708 96h1v1h-1zM814 96h1v1h-1zM822 96h1v1h-1zM964 96h1v1h-1zM973 96h1v1h-1zM473 97h1v1h-1zM490 97h1v1h-1zM496 97h1v1h-1zM502 97h1v1h-1zM514 97h1v1h-1zM614 97h1v1h-1zM620 97h1v1h-1zM644 97h1v1h-1zM656 97h1v1h-1zM709 97h1v1h-1zM814 97h1v1h-1zM822 97h1v1h-1zM963 97h1v1h-1zM974 97h1v1h-1zM472 98h1v1h-1zM491 98h1v1h-1zM495 98h1v1h-1zM503 98h1v1h-1zM513 98h1v1h-1zM615 98h1v1h-1zM619 98h1v1h-1zM645 98h1v1h-1zM655 98h1v1h-1zM710 98h1v1h-1zM814 98h1v1h-1zM822 98h1v1h-1zM962 98h1v1h-1zM975 98h1v1h-1zM471 99h1v1h-1zM492 99h1v1h-1zM494 99h1v1h-1zM504 99h1v1h-1zM512 99h1v1h-1zM616 99h1v1h-1zM618 99h1v1h-1zM646 99h1v1h-1zM654 99h1v1h-1zM711 99h1v1h-1zM813 99h1v1h-1zM823 99h1v1h-1zM961 99h1v1h-1zM976 99h1v1h-1zM228 100h1v1h-1zM240 100h12v1h-12zM275 100h196v1h-196zM493 100h1v1h-1zM505 100h7v1h-7zM617 100h1v1h-1zM647 100h7v1h-7zM712 100h1v1h-1zM724 100h42v1h-42zM813 100h1v1h-1zM823 100h1v1h-1zM901 100h7v1h-7zM930 100h19v1h-19zM960 100h1v1h-1zM977 100h19v1h-19zM227 101h1v1h-1zM229 101h1v1h-1zM239 101h1v1h-1zM252 101h1v1h-1zM274 101h1v1h-1zM713 101h1v1h-1zM723 101h1v1h-1zM766 101h1v1h-1zM813 101h1v1h-1zM823 101h1v1h-1zM900 101h1v1h-1zM908 101h1v1h-1zM929 101h1v1h-1zM949 101h1v1h-1zM959 101h1v1h-1zM225 102h2v1h-2zM230 102h1v1h-1zM237 102h2v1h-2zM253 102h1v1h-1zM272 102h2v1h-2zM714 102h1v1h-1zM721 102h2v1h-2zM767 102h1v1h-1zM813 102h1v1h-1zM823 102h1v1h-1zM898 102h2v1h-2zM909 102h1v1h-1zM927 102h2v1h-2zM950 102h1v1h-1zM957 102h2v1h-2zM224 103h1v1h-1zM231 103h2v1h-2zM236 103h1v1h-1zM254 103h2v1h-2zM271 103h1v1h-1zM715 103h2v1h-2zM720 103h1v1h-1zM768 103h2v1h-2zM812 103h1v1h-1zM824 103h1v1h-1zM897 103h1v1h-1zM910 103h1v1h-1zM926 103h1v1h-1zM951 103h2v1h-2zM956 103h1v1h-1zM223 104h1v1h-1zM233 104h1v1h-1zM235 104h1v1h-1zM256 104h1v1h-1zM270 104h1v1h-1zM717 104h1v1h-1zM719 104h1v1h-1zM770 104h1v1h-1zM812 104h1v1h-1zM824 104h1v1h-1zM896 104h1v1h-1zM911 104h1v1h-1zM925 104h1v1h-1zM953 104h1v1h-1zM955 104h1v1h-1zM181 105h42v1h-42zM234 105h1v1h-1zM257 105h13v1h-13zM718 105h1v1h-1zM771 105h42v1h-42zM824 105h1v1h-1zM836 105h1v1h-1zM848 105h1v1h-1zM865 105h31v1h-31zM912 105h13v1h-13zM954 105h1v1h-1zM180 106h1v1h-1zM825 106h1v1h-1zM835 106h1v1h-1zM837 106h1v1h-1zM847 106h1v1h-1zM849 106h1v1h-1zM864 106h1v1h-1zM179 107h1v1h-1zM826 107h1v1h-1zM834 107h1v1h-1zM838 107h1v1h-1zM846 107h1v1h-1zM850 107h1v1h-1zM863 107h1v1h-1zM178 108h1v1h-1zM827 108h1v1h-1zM833 108h1v1h-1zM839 108h1v1h-1zM845 108h1v1h-1zM851 108h1v1h-1zM862 108h1v1h-1zM177 109h1v1h-1zM828 109h1v1h-1zM832 109h1v1h-1zM840 109h1v1h-1zM844 109h1v1h-1zM851 109h1v1h-1zM861 109h1v1h-1zM176 110h1v1h-1zM829 110h1v1h-1zM831 110h1v1h-1zM841 110h1v1h-1zM843 110h1v1h-1zM852 110h1v1h-1zM860 110h1v1h-1zM151 111h25v1h-25zM830 111h1v1h-1zM842 111h1v1h-1zM853 111h7v1h-7z" fill="#800080" shape-rendering="crispEdges"/>
<path d="M976 300h9v1h-9zM974 301h2v1h-2zM985 301h3v1h-3zM972 302h2v1h-2zM988 302h3v1h-3zM971 303h1v1h-1zM991 303h3v1h-3zM970 304h1v1h-1zM994 304h2v1h-2zM969 305h1v1h-1zM969 306h1v1h-1zM968 307h1v1h-1zM967 308h1v1h-1zM966 309h1v1h-1zM965 310h1v1h-1zM964 311h1v1h-1zM963 312h1v1h-1zM962 313h1v1h-1zM961 314h1v1h-1zM960 315h1v1h-1zM959 316h1v1h-1zM958 317h1v1h-1zM957 318h1v1h-1zM957 319h1v1h-1zM956 320h1v1h-1zM955 321h1v1h-1zM954 322h1v1h-1zM953 323h1v1h-1zM952 324h1v1h-1zM951 325h1v1h-1zM950 326h1v1h-1zM927 327h11v1h-11zM949 327h1v1h-1zM923 328h4v1h-4zM938 328h3v1h-3zM945 328h4v1h-4zM920 329h3v1h-3zM941 329h4v1h-4zM917 330h3v1h-3zM915 331h2v1h-2zM913 332h2v1h-2zM911 333h2v1h-2zM888 334h9v1h-9zM909 334h2v1h-2zM886 335h2v1h-2zM897 335h3v1h-3zM904 335h5v1h-5zM884 336h2v1h-2zM900 336h4v1h-4zM876 337h8v1h-8zM874 338h2v1h-2zM872 339h2v1h-2zM868 340h4v1h-4zM862 341h6v1h-6zM859 342h3v1h-3zM857 343h2v1h-2zM856 344h1v1h-1zM854 345h2v1h-2zM853 346h1v1h-1zM851 347h2v1h-2zM849 348h2v1h-2zM847 349h2v1h-2zM844 350h3v1h-3zM841 351h3v1h-3zM839 352h2v1h-2zM837 353h2v1h-2zM835 354h2v1h-2zM832 355h3v1h-3zM829 356h3v1h-3zM826 357h3v1h-3zM803 358h6v1h-6zM823 358h3v1h-3zM799 359h4v1h-4zM809 359h5v1h-5zM821 359h2v1h-2zM797 360h2v1h-2zM814 360h3v1h-3zM819 360h2v1h-2zM795 361h2v1h-2zM817 361h2v1h-2zM794 362h1v1h-1zM793 363h1v1h-1zM791 364h2v1h-2zM790 365h1v1h-1zM788 366h2v1h-2zM785 367h3v1h-3zM783 368h2v1h-2zM781 369h2v1h-2zM780 370h1v1h-1zM778 371h2v1h-2zM777 372h1v1h-1zM776 373h1v1h-1zM776 374h1v1h-1zM775 375h1v1h-1zM774 376h1v1h-1zM773 377h1v1h-1zM773 378h1v1h-1zM772 379h1v1h-1zM770 380h2v1h-2zM768 381h2v1h-2zM766 382h2v1h-2zM765 383h1v1h-1zM763 384h2v1h-2zM762 385h1v1h-1zM760 386h2v1h-2zM758 387h2v1h-2zM721 388h5v1h-5zM734 388h3v1h-3zM756 388h2v1h-2zM718 389h3v1h-3zM726 389h2v1h-2zM731 389h3v1h-3zM737 389h3v1h-3zM754 389h2v1h-2zM717 390h1v1h-1zM728 390h3v1h-3zM740 390h2v1h-2zM752 390h2v1h-2zM716 391h1v1h-1zM742 391h2v1h-2zM750 391h2v1h-2zM715 392h1v1h-1zM744 392h2v1h-2zM748 392h2v1h-2zM714 393h1v1h-1zM746 393h2v1h-2zM640 394h3v1h-3zM713 394h1v1h-1zM638 395h2v1h-2zM643 395h3v1h-3zM712 395h1v1h-1zM636 396h2v1h-2zM646 396h9v1h-9zM711 396h1v1h-1zM634 397h2v1h-2zM655 397h3v1h-3zM710 397h1v1h-1zM632 398h2v1h-2zM658 398h2v1h-2zM709 398h1v1h-1zM630 399h2v1h-2zM660 399h2v1h-2zM709 399h1v1h-1zM587 400h9v1h-9zM628 400h2v1h-2zM662 400h2v1h-2zM687 400h15v1h-15zM708 400h1v1h-1zM584 401h3v1h-3zM596 401h3v1h-3zM625 401h3v1h-3zM664 401h3v1h-3zM684 401h3v1h-3zM702 401h3v1h-3zM707 401h1v1h-1zM581 402h3v1h-3zM599 402h10v1h-10zM620 402h5v1h-5zM667 402h2v1h-2zM681 402h3v1h-3zM705 402h2v1h-2zM579 403h2v1h-2zM609 403h11v1h-11zM669 403h3v1h-3zM679 403h2v1h-2zM577 404h2v1h-2zM672 404h3v1h-3zM677 404h2v1h-2zM576 405h1v1h-1zM675 405h2v1h-2zM574 406h2v1h-2zM573 407h1v1h-1zM571 408h2v1h-2zM569 409h2v1h-2zM566 410h3v1h-3zM563 411h3v1h-3zM560 412h3v1h-3zM557 413h3v1h-3zM554 414h3v1h-3zM549 415h5v1h-5zM545 416h4v1h-4zM543 417h2v1h-2zM540 418h3v1h-3zM538 419h2v1h-2zM536 420h2v1h-2zM534 421h2v1h-2zM532 422h2v1h-2zM530 423h2v1h-2zM529 424h1v1h-1zM527 425h2v1h-2zM526 426h1v1h-1zM524 427h2v1h-2zM523 428h1v1h-1zM521 429h2v1h-2zM520 430h1v1h-1zM518 431h2v1h-2zM516 432h2v1h-2zM514 433h2v1h-2zM512 434h2v1h-2zM511 435h1v1h-1zM509 436h2v1h-2zM508 437h1v1h-1zM506 438h2v1h-2zM504 439h2v1h-2zM501 440h3v1h-3zM498 441h3v1h-3zM495 442h3v1h-3zM492 443h3v1h-3zM490 444h2v1h-2zM488 445h2v1h-2zM487 446h1v1h-1zM486 447h1v1h-1zM484 448h2v1h-2zM483 449h1v1h-1zM482 450h1v1h-1zM480 451h2v1h-2zM479 452h1v1h-1zM477 453h2v1h-2zM475 454h2v1h-2zM472 455h3v1h-3zM470 456h2v1h-2zM468 457h2v1h-2zM467 458h1v1h-1zM465 459h2v1h-2zM463 460h2v1h-2zM460 461h3v1h-3zM457 462h3v1h-3zM454 463h3v1h-3zM451 464h3v1h-3zM448 465h3v1h-3zM445 466h3v1h-3zM442 467h3v1h-3zM439 468h3v1h-3zM437 469h2v1h-2zM435 470h2v1h-2zM434 471h1v1h-1zM433 472h1v1h-1zM431 473h2v1h-2zM430 474h1v1h-1zM429 475h1v1h-1zM428 476h1v1h-1zM427 477h1v1h-1zM425 478h2v1h-2zM424 479h1v1h-1zM422 480h2v1h-2zM419 481h3v1h-3zM416 482h3v1h-3zM413 483h3v1h-3zM410 484h3v1h-3zM407 485h3v1h-3zM396 486h11v1h-11zM392 487h4v1h-4zM389 488h3v1h-3zM386 489h3v1h-3zM384 490h2v1h-2zM382 491h2v1h-2zM380 492h2v1h-2zM378 493h2v1h-2zM376 494h2v1h-2zM374 495h2v1h-2zM372 496h2v1h-2zM370 497h2v1h-2zM368 498h2v1h-2zM365 499h3v1h-3zM362 500h3v1h-3zM360 501h2v1h-2zM357 502h3v1h-3zM354 503h3v1h-3zM349 504h5v1h-5zM345 505h4v1h-4zM342 506h3v1h-3zM337 507h5v1h-5zM333 508h4v1h-4zM330 509h3v1h-3zM327 510h3v1h-3zM324 511h3v1h-3zM321 512h3v1h-3zM318 513h3v1h-3zM315 514h3v1h-3zM312 515h3v1h-3zM309 516h3v1h-3zM306 517h3v1h-3zM303 518h3v1h-3zM301 519h2v1h-2zM298 520h3v1h-3zM295 521h3v1h-3zM292 522h3v1h-3zM290 523h2v1h-2zM288 524h2v1h-2zM286 525h2v1h-2zM283 526h3v1h-3zM280 527h3v1h-3zM277 528h3v1h-3zM274 529h3v1h-3zM271 530h3v1h-3zM254 531h17v1h-17zM250 532h4v1h-4zM247 533h3v1h-3zM244 534h3v1h-3zM242 535h2v1h-2zM237 536h5v1h-5zM231 537h6v1h-6zM227 538h4v1h-4zM224 539h3v1h-3zM221 540h3v1h-3zM218 541h3v1h-3zM215 542h3v1h-3zM212 543h3v1h-3zM197 544h15v1h-15zM194 545h3v1h-3zM191 546h3v1h-3zM188 547h3v1h-3zM185 548h3v1h-3zM183 549h2v1h-2zM151 550h2v1h-2zM178 550h5v1h-5zM153 551h3v1h-3zM172 551h6v1h-6zM156 552h16v1h-16z" fill="#FF0080" shape-rendering="crispEdges"/>
<rect x="995" y="63" width="1" height="538" fill="#808080"/>
<rect x="150" y="61" width="852" height="2" fill="#808080"/>
<rect x="150" y="601" width="852" height="2" fill="#808080"/>
<rect x="150" y="61" width="2" height="542" fill="#808080"/>
<rect x="1000" y="61" width="2" height="542" fill="#808080"/>
<rect x="151" y="603" width="1" height="4" fill="#808080"/>
<text transform="translate(151.5 621) scale(0.87 1)" fill="#000" stroke="#000" stroke-width="0.12" font-size="12" text-anchor="middle" >00:00</text>
<rect x="186" y="603" width="1" height="4" fill="#808080"/>
<text transform="translate(186.5 621) scale(0.87 1)" fill="#000" stroke="#000" stroke-width="0.12" font-size="12" text-anchor="middle" >01:00</text>
<rect x="222" y="603" width="1" height="4" fill="#808080"/>
<text transform="translate(222.5 621) scale(0.87 1)" fill="#000" stroke="#000" stroke-width="0.12" font-size="12" text-anchor="middle" >02:00</text>
<rect x="257" y="603" width="1" height="4" fill="#808080"/>
<text transform="translate(257.5 621) scale(0.87 1)" fill="#000" stroke="#000" stroke-width="0.12" font-size="12" text-anchor="middle" >03:00</text>
<rect x="293" y="603" width="1" height="4" fill="#808080"/>
<text transform="translate(293.5 621) scale(0.87 1)" fill="#000" stroke="#000" stroke-width="0.12" font-size="12" text-anchor="middle" >04:00</text>
<rect x="328" y="603" width="1" height="4" fill="#808080"/>
<text transform="translate(328.5 621) scale(0.87 1)" fill="#000" stroke="#000" stroke-width="0.12" font-size="12" text-anchor="middle" >05:00</text>
<rect x="363" y="603" width="1" height="4" fill="#808080"/>
<text transform="translate(363.5 621) scale(0.87 1)" fill="#000" stroke="#000" stroke-width="0.12" font-size="12" text-anchor="middle" >06:00</text>
<rect x="399" y="603" width="1" height="4" fill="#808080"/>
<text transform="translate(399.5 621) scale(0.87 1)" fill="#000" stroke="#000" stroke-width="0.12" font-size="12" text-anchor="middle" >07:00</text>
<rect x="434" y="603" width="1" height="4" fill="#808080"/>
<text transform="translate(434.5 621) scale(0.87 1)" fill="#000" stroke="#000" stroke-width="0.12" font-size="12" text-anchor="middle" >08:00</text>
<rect x="470" y="603" width="1" height="4" fill="#808080"/>
<text transform="translate(470.5 621) scale(0.87 1)" fill="#000" stroke="#000" stroke-width="0.12" font-size="12" text-anchor="middle" >09:00</text>
<rect x="505" y="603" width="1" height="4" fill="#808080"/>
<text transform="translate(505.5 621) scale(0.87 1)" fill="#000" stroke="#000" stroke-width="0.12" font-size="12" text-anchor="middle" >10:00</text>
<rect x="541" y="603" width="1" height="4" fill="#808080"/>
<text transform="translate(541.5 621) scale(0.87 1)" fill="#000" stroke="#000" stroke-width="0.12" font-size="12" text-anchor="middle" >11:00</text>
<rect x="576" y="603" width="1" height="4" fill="#808080"/>
<text transform="translate(576.5 621) scale(0.87 1)" fill="#000" stroke="#000" stroke-width="0.12" font-size="12" text-anchor="middle" >12:00</text>
<rect x="611" y="603" width="1" height="4" fill="#808080"/>
<text transform="translate(611.5 621) scale(0.87 1)" fill="#000" stroke="#000" stroke-width="0.12" font-size="12" text-anchor="middle" >13:00</text>
<rect x="647" y="603" width="1" height="4" fill="#808080"/>
<text transform="translate(647.5 621) scale(0.87 1)" fill="#000" stroke="#000" stroke-width="0.12" font-size="12" text-anchor="middle" >14:00</text>
<rect x="682" y="603" width="1" height="4" fill="#808080"/>
<text transform="translate(682.5 621) scale(0.87 1)" fill="#000" stroke="#000" stroke-width="0.12" font-size="12" text-anchor="middle" >15:00</text>
<rect x="718" y="603" width="1" height="4" fill="#808080"/>
<text transform="translate(718.5 621) scale(0.87 1)" fill="#000" stroke="#000" stroke-width="0.12" font-size="12" text-anchor="middle" >16:00</text>
<rect x="753" y="603" width="1" height="4" fill="#808080"/>
<text transform="translate(753.5 621) scale(0.87 1)" fill="#000" stroke="#000" stroke-width="0.12" font-size="12" text-anchor="middle" >17:00</text>
<rect x="789" y="603" width="1" height="4" fill="#808080"/>
<text transform="translate(789.5 621) scale(0.87 1)" fill="#000" stroke="#000" stroke-width="0.12" font-size="12" text-anchor="middle" >18:00</text>
<rect x="824" y="603" width="1" height="4" fill="#808080"/>
<text transform="translate(824.5 621) scale(0.87 1)" fill="#000" stroke="#000" stroke-width="0.12" font-size="12" text-anchor="middle" >19:00</text>
<rect x="859" y="603" width="1" height="4" fill="#808080"/>
<text transform="translate(859.5 621) scale(0.87 1)" fill="#000" stroke="#000" stroke-width="0.12" font-size="12" text-anchor="middle" >20:00</text>
<rect x="895" y="603" width="1" height="4" fill="#808080"/>
<text transform="translate(895.5 621) scale(0.87 1)" fill="#000" stroke="#000" stroke-width="0.12" font-size="12" text-anchor="middle" >21:00</text>
<rect x="930" y="603" width="1" height="4" fill="#808080"/>
<text transform="translate(930.5 621) scale(0.87 1)" fill="#000" stroke="#000" stroke-width="0.12" font-size="12" text-anchor="middle" >22:00</text>
<rect x="966" y="603" width="1" height="4" fill="#808080"/>
<text transform="translate(966.5 621) scale(0.87 1)" fill="#000" stroke="#000" stroke-width="0.12" font-size="12" text-anchor="middle" >23:00</text>
<rect x="1001" y="603" width="1" height="4" fill="#808080"/>
<text transform="translate(1001.5 621) scale(0.87 1)" fill="#000" stroke="#000" stroke-width="0.12" font-size="12" text-anchor="middle" >24:00</text>
<rect x="440" y="598" width="2" height="13" fill="#FFFF00"/>
<rect x="749" y="598" width="2" height="13" fill="#FFFF00"/>
<text transform="translate(10 632) scale(0.87 1)" fill="#000" stroke="#000" stroke-width="0.12" font-size="12" >08:42</text>
<path d="M40,631 L40,628.5 Q40,625 44.5,625 Q49,625 49,628.5 L49,631 Z" fill="#FFFF00"/>
<text transform="translate(407.5 632) scale(0.87 1)" fill="#000" stroke="#000" stroke-width="0.12" font-size="12" >08:11</text>
<g stroke="#FFFFB0" stroke-width="1"><line x1="435" y1="622" x2="447" y2="634"/><line x1="447" y1="622" x2="435" y2="634"/><line x1="441" y1="621" x2="441" y2="635"/><line x1="434" y1="628" x2="448" y2="628"/></g>
<circle cx="441" cy="628" r="4.3" fill="#FFFF00"/>
<text transform="translate(717 632) scale(0.87 1)" fill="#000" stroke="#000" stroke-width="0.12" font-size="12" >16:54</text>
<rect x="747.5" y="625.5" width="5" height="5" fill="none" stroke="#FFFF70" stroke-width="1"/>
<rect x="1" y="639" width="1150" height="72" fill="#CCF8F6"/>
<rect x="1150" y="639" width="1" height="72" fill="#D4FFFE"/>
<rect x="1151" y="638" width="1" height="73" fill="#A8A094"/>
<rect x="87" y="639" width="1" height="72" fill="#FFFFFF"/>
<rect x="88" y="639" width="1" height="72" fill="#A8A094"/>
<rect x="204" y="639" width="1" height="72" fill="#FFFFFF"/>
<rect x="205" y="639" width="1" height="72" fill="#A8A094"/>
<rect x="322" y="639" width="1" height="72" fill="#FFFFFF"/>
<rect x="323" y="639" width="1" height="72" fill="#A8A094"/>
<rect x="440" y="639" width="1" height="72" fill="#FFFFFF"/>
<rect x="441" y="639" width="1" height="72" fill="#A8A094"/>
<rect x="558" y="639" width="1" height="72" fill="#FFFFFF"/>
<rect x="559" y="639" width="1" height="72" fill="#A8A094"/>
<rect x="676" y="639" width="1" height="72" fill="#FFFFFF"/>
<rect x="677" y="639" width="1" height="72" fill="#A8A094"/>
<rect x="794" y="639" width="1" height="72" fill="#FFFFFF"/>
<rect x="795" y="639" width="1" height="72" fill="#A8A094"/>
<text transform="translate(8.5 657) scale(0.97 1)" fill="#000" font-size="12" font-weight="bold" >Sensor</text>
<text transform="translate(8.5 673) scale(0.97 1)" fill="#000" font-size="12" font-weight="bold" >MinWert</text>
<text transform="translate(8.5 689) scale(0.97 1)" fill="#000" font-size="12" font-weight="bold" >MaxWert</text>
<text transform="translate(8.5 705) scale(0.97 1)" fill="#000" font-size="12" font-weight="bold" >Durchschnitt</text>
<text transform="translate(95.5 657) scale(0.97 1)" fill="#000" font-size="12" font-weight="bold" >Temp. A.</text>
<text transform="translate(198.5 657) scale(0.97 1)" fill="#000" font-size="12" text-anchor="end" font-weight="bold" >°C</text>
<text transform="translate(101.5 673) scale(0.87 1)" fill="#000" stroke="#000" stroke-width="0.12" font-size="12" >00:10</text>
<text transform="translate(198.5 673) scale(0.87 1)" fill="#000" stroke="#000" stroke-width="0.12" font-size="12" text-anchor="end" >-10.8</text>
<text transform="translate(101.5 689) scale(0.87 1)" fill="#000" stroke="#000" stroke-width="0.12" font-size="12" >23:20</text>
<text transform="translate(198.5 689) scale(0.87 1)" fill="#000" stroke="#000" stroke-width="0.12" font-size="12" text-anchor="end" >10.2</text>
<text transform="translate(198.5 705) scale(0.87 1)" fill="#000" stroke="#000" stroke-width="0.12" font-size="12" text-anchor="end" >-0.62</text>
<text transform="translate(212.5 657) scale(0.97 1)" fill="#000" font-size="12" font-weight="bold" >Feuchte A.</text>
<text transform="translate(316.5 657) scale(0.97 1)" fill="#000" font-size="12" text-anchor="end" font-weight="bold" >%</text>
<text transform="translate(218.5 673) scale(0.87 1)" fill="#000" stroke="#000" stroke-width="0.12" font-size="12" >00:00</text>
<text transform="translate(316.5 673) scale(0.87 1)" fill="#000" stroke="#000" stroke-width="0.12" font-size="12" text-anchor="end" >91</text>
<text transform="translate(218.5 689) scale(0.87 1)" fill="#000" stroke="#000" stroke-width="0.12" font-size="12" >18:50</text>
<text transform="translate(316.5 689) scale(0.87 1)" fill="#000" stroke="#000" stroke-width="0.12" font-size="12" text-anchor="end" >97</text>
<text transform="translate(316.5 705) scale(0.87 1)" fill="#000" stroke="#000" stroke-width="0.12" font-size="12" text-anchor="end" >93</text>
<text transform="translate(330.5 657) scale(0.97 1)" fill="#000" font-size="12" font-weight="bold" >Luftdruck</text>
<text transform="translate(434.5 657) scale(0.97 1)" fill="#000" font-size="12" text-anchor="end" font-weight="bold" >hPa</text>
<text transform="translate(336.5 673) scale(0.87 1)" fill="#000" stroke="#000" stroke-width="0.12" font-size="12" >19:20</text>
<text transform="translate(434.5 673) scale(0.87 1)" fill="#000" stroke="#000" stroke-width="0.12" font-size="12" text-anchor="end" >985.7</text>
<text transform="translate(336.5 689) scale(0.87 1)" fill="#000" stroke="#000" stroke-width="0.12" font-size="12" >00:00</text>
<text transform="translate(434.5 689) scale(0.87 1)" fill="#000" stroke="#000" stroke-width="0.12" font-size="12" text-anchor="end" >1005.4</text>
<text transform="translate(330.5 705) scale(0.87 1)" fill="#000" stroke="#000" stroke-width="0.12" font-size="12" >^2.0hPa/h</text>
<text transform="translate(434.5 705) scale(0.87 1)" fill="#000" stroke="#000" stroke-width="0.12" font-size="12" text-anchor="end" >993.5</text>
<text transform="translate(448.5 657) scale(0.97 1)" fill="#000" font-size="12" font-weight="bold" >Wind</text>
<text transform="translate(552.5 657) scale(0.97 1)" fill="#000" font-size="12" text-anchor="end" font-weight="bold" >km/h</text>
<text transform="translate(448.5 673) scale(0.87 1)" fill="#000" stroke="#000" stroke-width="0.12" font-size="12" >Ø 10 min.</text>
<text transform="translate(552.5 673) scale(0.87 1)" fill="#000" stroke="#000" stroke-width="0.12" font-size="12" text-anchor="end" >6.4</text>
<text transform="translate(454.5 689) scale(0.87 1)" fill="#000" stroke="#000" stroke-width="0.12" font-size="12" >20:30</text>
<text transform="translate(552.5 689) scale(0.87 1)" fill="#000" stroke="#000" stroke-width="0.12" font-size="12" text-anchor="end" >S-SO 11.3</text>
<text transform="translate(454.5 705) scale(0.87 1)" fill="#000" stroke="#000" stroke-width="0.12" font-size="12" >2,1 km</text>
<text transform="translate(552.5 705) scale(0.87 1)" fill="#000" stroke="#000" stroke-width="0.12" font-size="12" text-anchor="end" >2.1</text>
<text transform="translate(566.5 657) scale(0.97 1)" fill="#000" font-size="12" font-weight="bold" >Richtung</text>
<text transform="translate(572.5 673) scale(0.87 1)" fill="#000" stroke="#000" stroke-width="0.12" font-size="12" >00:00</text>
<text transform="translate(670.5 673) scale(0.87 1)" fill="#000" stroke="#000" stroke-width="0.12" font-size="12" text-anchor="end" >N</text>
<text transform="translate(572.5 689) scale(0.87 1)" fill="#000" stroke="#000" stroke-width="0.12" font-size="12" >15:50</text>
<text transform="translate(670.5 689) scale(0.87 1)" fill="#000" stroke="#000" stroke-width="0.12" font-size="12" text-anchor="end" >N</text>
<text transform="translate(670.5 705) scale(0.87 1)" fill="#000" stroke="#000" stroke-width="0.12" font-size="12" text-anchor="end" >S</text>
<text transform="translate(684.5 657) scale(0.97 1)" fill="#000" font-size="12" font-weight="bold" >Regen</text>
<text transform="translate(788.5 657) scale(0.97 1)" fill="#000" font-size="12" text-anchor="end" font-weight="bold" >l/m²</text>
<text transform="translate(690.5 689) scale(0.87 1)" fill="#000" stroke="#000" stroke-width="0.12" font-size="12" >14:00</text>
<text transform="translate(788.5 689) scale(0.87 1)" fill="#000" stroke="#000" stroke-width="0.12" font-size="12" text-anchor="end" >0.4</text>
<text transform="translate(684.5 705) scale(0.87 1)" fill="#000" stroke="#000" stroke-width="0.12" font-size="12" >Gesamt:</text>
<text transform="translate(788.5 705) scale(0.87 1)" fill="#000" stroke="#000" stroke-width="0.12" font-size="12" text-anchor="end" >6.2</text>
<text transform="translate(920.5 657) scale(0.97 1)" fill="#000" font-size="12" font-weight="bold" >PMV 0:7</text>
<text transform="translate(920.5 673) scale(0.87 1)" fill="#000" stroke="#000" stroke-width="0.12" font-size="12" >WC 9.8 °C</text>
<text transform="translate(920.5 689) scale(0.87 1)" fill="#000" stroke="#000" stroke-width="0.12" font-size="12" >TP 8.7 °C</text>
<text transform="translate(920.5 705) scale(0.87 1)" fill="#000" stroke="#000" stroke-width="0.12" font-size="12" >1.4hPa/3h</text>
</svg></body></html>
